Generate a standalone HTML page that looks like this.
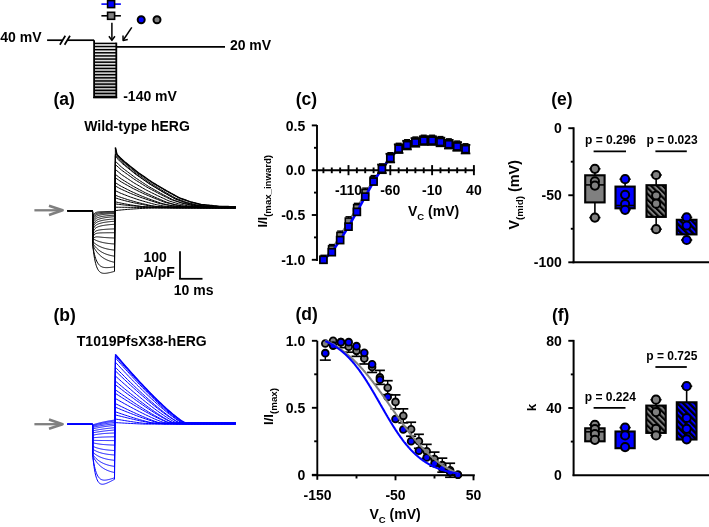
<!DOCTYPE html>
<html><head><meta charset="utf-8"><style>
html,body{margin:0;padding:0;background:#fff;width:709px;height:527px;overflow:hidden}
svg{display:block;will-change:transform;filter:blur(0.35px);font-family:"Liberation Sans",sans-serif}
</style></head><body>
<svg width="709" height="527" viewBox="0 0 709 527" font-family="Liberation Sans, sans-serif" font-weight="bold">
<text x="0.30" y="41.60" font-size="14" text-anchor="start" >40 mV</text>
<line x1="47.10" y1="40.20" x2="62.30" y2="40.20" stroke="#000" stroke-width="1.7" />
<line x1="67.20" y1="40.20" x2="94.10" y2="40.20" stroke="#000" stroke-width="1.7" />
<line x1="59.90" y1="44.70" x2="65.30" y2="35.80" stroke="#000" stroke-width="1.7" />
<line x1="64.60" y1="44.70" x2="70.00" y2="35.80" stroke="#000" stroke-width="1.7" />
<defs><linearGradient id="pg" x1="0" y1="0" x2="0" y2="1"><stop offset="0" stop-color="#f4f4f4"/><stop offset="1" stop-color="#b4b4b4"/></linearGradient></defs>
<rect x="94.1" y="43.4" width="22.2" height="54" fill="url(#pg)"/>
<line x1="94.10" y1="43.40" x2="116.30" y2="43.40" stroke="#000" stroke-width="1.5" />
<line x1="94.10" y1="46.53" x2="116.30" y2="46.53" stroke="#000" stroke-width="1.5" />
<line x1="94.10" y1="49.66" x2="116.30" y2="49.66" stroke="#000" stroke-width="1.5" />
<line x1="94.10" y1="52.79" x2="116.30" y2="52.79" stroke="#000" stroke-width="1.5" />
<line x1="94.10" y1="55.92" x2="116.30" y2="55.92" stroke="#000" stroke-width="1.5" />
<line x1="94.10" y1="59.05" x2="116.30" y2="59.05" stroke="#000" stroke-width="1.5" />
<line x1="94.10" y1="62.18" x2="116.30" y2="62.18" stroke="#000" stroke-width="1.5" />
<line x1="94.10" y1="65.31" x2="116.30" y2="65.31" stroke="#000" stroke-width="1.5" />
<line x1="94.10" y1="68.44" x2="116.30" y2="68.44" stroke="#000" stroke-width="1.5" />
<line x1="94.10" y1="71.57" x2="116.30" y2="71.57" stroke="#000" stroke-width="1.5" />
<line x1="94.10" y1="74.70" x2="116.30" y2="74.70" stroke="#000" stroke-width="1.5" />
<line x1="94.10" y1="77.83" x2="116.30" y2="77.83" stroke="#000" stroke-width="1.5" />
<line x1="94.10" y1="80.96" x2="116.30" y2="80.96" stroke="#000" stroke-width="1.5" />
<line x1="94.10" y1="84.09" x2="116.30" y2="84.09" stroke="#000" stroke-width="1.5" />
<line x1="94.10" y1="87.22" x2="116.30" y2="87.22" stroke="#000" stroke-width="1.5" />
<line x1="94.10" y1="90.35" x2="116.30" y2="90.35" stroke="#000" stroke-width="1.5" />
<line x1="94.10" y1="93.48" x2="116.30" y2="93.48" stroke="#000" stroke-width="1.5" />
<line x1="94.10" y1="96.61" x2="116.30" y2="96.61" stroke="#000" stroke-width="1.5" />
<line x1="94.10" y1="40.20" x2="94.10" y2="97.90" stroke="#000" stroke-width="1.8" />
<line x1="116.30" y1="42.60" x2="116.30" y2="97.90" stroke="#000" stroke-width="1.8" />
<line x1="93.20" y1="97.60" x2="117.20" y2="97.60" stroke="#000" stroke-width="1.5" />
<line x1="116.30" y1="46.80" x2="225.00" y2="46.80" stroke="#000" stroke-width="1.7" />
<text x="229.90" y="49.70" font-size="14" text-anchor="start" >20 mV</text>
<text x="123.20" y="101.10" font-size="14" text-anchor="start" >-140 mV</text>
<line x1="101.40" y1="4.10" x2="120.90" y2="4.10" stroke="#0000ff" stroke-width="1.6" />
<rect x="107.6" y="0.6" width="7" height="7" fill="#0000ff" stroke="#000" stroke-width="1.6"/>
<line x1="101.40" y1="15.80" x2="120.90" y2="15.80" stroke="#000" stroke-width="1.6" />
<rect x="107.6" y="12.3" width="7" height="7" fill="#808080" stroke="#000" stroke-width="1.6"/>
<circle cx="141.2" cy="19.7" r="3.5" fill="#0000ff" stroke="#000" stroke-width="2"/>
<circle cx="157" cy="19.7" r="3.5" fill="#808080" stroke="#000" stroke-width="2"/>
<line x1="111.90" y1="22.80" x2="111.90" y2="40.00" stroke="#000" stroke-width="1.5" />
<polyline points="108.90,36.20 111.90,40.40 114.90,36.20" fill="none" stroke="#000" stroke-width="1.5" stroke-linejoin="round" />
<line x1="131.80" y1="27.30" x2="123.30" y2="40.00" stroke="#000" stroke-width="1.5" />
<polyline points="123.00,35.60 123.10,40.40 127.80,39.60" fill="none" stroke="#000" stroke-width="1.5" stroke-linejoin="round" />
<text x="53.50" y="104.80" font-size="17.5" text-anchor="start" >(a)</text>
<text x="53.50" y="320.60" font-size="17.5" text-anchor="start" >(b)</text>
<text x="137.00" y="131.30" font-size="14" text-anchor="middle" >Wild-type hERG</text>
<text x="141.80" y="345.80" font-size="14" text-anchor="middle" >T1019PfsX38-hERG</text>
<line x1="34.40" y1="210.30" x2="62.00" y2="210.30" stroke="#7f7f7f" stroke-width="2.3" />
<path d="M49.0,205.70 L62.6,210.30 L49.0,214.90" fill="none" stroke="#7f7f7f" stroke-width="2.6" stroke-linejoin="round" stroke-linecap="butt"/>
<line x1="34.40" y1="424.20" x2="62.00" y2="424.20" stroke="#7f7f7f" stroke-width="2.3" />
<path d="M49.0,419.60 L62.6,424.20 L49.0,428.80" fill="none" stroke="#7f7f7f" stroke-width="2.6" stroke-linejoin="round" stroke-linecap="butt"/>
<polyline points="67.40,210.70 92.50,210.70 92.90,246.70 93.44,251.27 93.98,255.11 94.52,258.34 95.06,261.06 95.60,263.33 96.14,265.23 96.68,266.82 97.22,268.14 97.76,269.23 98.30,270.13 98.84,270.87 99.38,271.48 99.92,271.97 100.46,272.36 101.00,272.67 101.54,272.90 102.08,273.08 102.62,273.21 103.16,273.29 103.70,273.34 104.24,273.36 104.78,273.35 105.32,273.32 105.86,273.28 106.40,273.21 106.94,273.14 107.48,273.05 108.02,272.95 108.56,272.84 109.10,272.73 109.64,272.61 110.18,272.49 110.72,272.36 111.26,272.23 111.80,272.10 112.34,271.96 112.88,271.82 113.42,271.68 113.96,271.54 114.50,271.40 115.40,147.70 116.90,154.44 118.41,155.93 119.91,157.42 121.42,158.91 122.92,160.40 124.42,161.73 125.93,162.93 127.43,164.13 128.93,165.33 130.44,166.52 131.94,167.72 133.44,168.92 134.95,170.12 136.45,171.31 137.96,172.50 139.46,173.54 140.96,174.59 142.47,175.63 143.97,176.68 145.47,177.72 146.98,178.77 148.48,179.82 149.99,180.86 151.49,181.91 152.99,182.86 154.50,183.75 156.00,184.64 157.50,185.53 159.01,186.42 160.51,187.31 162.02,188.20 163.52,189.09 165.02,189.98 166.53,190.86 168.03,191.69 169.53,192.52 171.04,193.35 172.54,194.17 174.05,195.00 175.55,195.83 177.05,196.66 178.56,197.48 180.06,198.13 181.56,198.67 183.07,199.22 184.57,199.76 186.08,200.31 187.58,200.85 189.08,201.39 190.59,201.91 192.09,202.29 193.59,202.66 195.10,203.04 196.60,203.41 198.11,203.79 199.61,204.16 201.11,204.53 202.62,204.69 204.12,204.84 205.62,205.00 207.13,205.16 208.63,205.31 210.14,205.47 211.64,205.62 213.14,205.78 214.65,205.93 216.15,206.09 217.65,206.25 219.16,206.40 220.66,206.45 222.17,206.49 223.67,206.52 225.17,206.56 226.68,206.59 228.18,206.62 229.69,206.66 231.19,206.69 232.69,206.73 234.20,206.76 235.70,206.79" fill="none" stroke="#000" stroke-width="1.0" stroke-linejoin="round" />
<polyline points="115.40,147.70 116.90,154.44 118.41,155.93 119.91,157.42 121.42,158.91 122.92,160.40 124.42,161.73 125.93,162.93 127.43,164.13 128.93,165.33 130.44,166.52 131.94,167.72 133.44,168.92 134.95,170.12 136.45,171.31 137.96,172.50 139.46,173.54 140.96,174.59 142.47,175.63 143.97,176.68 145.47,177.72 146.98,178.77 148.48,179.82 149.99,180.86 151.49,181.91 152.99,182.86 154.50,183.75 156.00,184.64 157.50,185.53 159.01,186.42 160.51,187.31 162.02,188.20 163.52,189.09 165.02,189.98 166.53,190.86 168.03,191.69 169.53,192.52 171.04,193.35 172.54,194.17 174.05,195.00 175.55,195.83 177.05,196.66 178.56,197.48 180.06,198.13 181.56,198.67 183.07,199.22 184.57,199.76 186.08,200.31 187.58,200.85 189.08,201.39 190.59,201.91 192.09,202.29 193.59,202.66 195.10,203.04 196.60,203.41 198.11,203.79 199.61,204.16 201.11,204.53 202.62,204.69 204.12,204.84 205.62,205.00 207.13,205.16 208.63,205.31 210.14,205.47 211.64,205.62 213.14,205.78 214.65,205.93 216.15,206.09 217.65,206.25 219.16,206.40 220.66,206.45 222.17,206.49 223.67,206.52 225.17,206.56 226.68,206.59 228.18,206.62 229.69,206.66 231.19,206.69 232.69,206.73 234.20,206.76 235.70,206.79" fill="none" stroke="#000" stroke-width="1.5" stroke-linejoin="round" />
<polyline points="67.40,210.70 92.50,210.70 92.90,246.70 93.44,249.74 93.98,252.37 94.52,254.64 95.06,256.61 95.60,258.31 96.14,259.78 96.68,261.04 97.22,262.13 97.76,263.06 98.30,263.86 98.84,264.54 99.38,265.12 99.92,265.62 100.46,266.03 101.00,266.38 101.54,266.67 102.08,266.91 102.62,267.11 103.16,267.27 103.70,267.39 104.24,267.48 104.78,267.55 105.32,267.60 105.86,267.63 106.40,267.64 106.94,267.64 107.48,267.62 108.02,267.60 108.56,267.56 109.10,267.52 109.64,267.47 110.18,267.41 110.72,267.35 111.26,267.28 111.80,267.21 112.34,267.13 112.88,267.05 113.42,266.97 113.96,266.89 114.50,266.80 115.40,154.00 116.90,155.56 118.41,157.13 119.91,158.69 121.42,160.26 122.92,161.69 124.42,162.94 125.93,164.20 127.43,165.45 128.93,166.71 130.44,167.96 131.94,169.22 133.44,170.47 134.95,171.73 136.45,172.93 137.96,174.03 139.46,175.13 140.96,176.22 142.47,177.32 143.97,178.42 145.47,179.51 146.98,180.61 148.48,181.71 149.99,182.78 151.49,183.71 152.99,184.64 154.50,185.58 156.00,186.51 157.50,187.44 159.01,188.38 160.51,189.31 162.02,190.24 163.52,191.18 165.02,192.04 166.53,192.91 168.03,193.78 169.53,194.65 171.04,195.51 172.54,196.38 174.05,197.25 175.55,198.12 177.05,198.74 178.56,199.31 180.06,199.88 181.56,200.45 183.07,201.02 184.57,201.59 186.08,202.16 187.58,202.63 189.08,203.02 190.59,203.42 192.09,203.81 193.59,204.20 195.10,204.59 196.60,204.99 198.11,205.22 199.61,205.38 201.11,205.54 202.62,205.71 204.12,205.87 205.62,206.03 207.13,206.20 208.63,206.36 210.14,206.52 211.64,206.69 213.14,206.85 214.65,207.01 216.15,207.05 217.65,207.09 219.16,207.13 220.66,207.16 222.17,207.20 223.67,207.23 225.17,207.27 226.68,207.30 228.18,207.34 229.69,207.37 231.19,207.41 232.69,207.45 234.20,207.48 235.70,207.50" fill="none" stroke="#000" stroke-width="1.0" stroke-linejoin="round" />
<polyline points="67.40,210.70 92.50,210.70 92.90,245.70 93.44,246.71 93.98,247.66 94.52,248.56 95.06,249.41 95.60,250.22 96.14,250.98 96.68,251.70 97.22,252.38 97.76,253.03 98.30,253.64 98.84,254.21 99.38,254.76 99.92,255.28 100.46,255.76 101.00,256.23 101.54,256.66 102.08,257.08 102.62,257.47 103.16,257.84 103.70,258.19 104.24,258.52 104.78,258.83 105.32,259.13 105.86,259.41 106.40,259.68 106.94,259.93 107.48,260.16 108.02,260.39 108.56,260.60 109.10,260.80 109.64,260.99 110.18,261.17 110.72,261.34 111.26,261.50 111.80,261.65 112.34,261.80 112.88,261.93 113.42,262.06 113.96,262.18 114.50,262.30 115.40,155.60 116.90,157.15 118.41,158.69 119.91,160.24 121.42,161.78 122.92,163.18 124.42,164.42 125.93,165.66 127.43,166.90 128.93,168.14 130.44,169.38 131.94,170.62 133.44,171.86 134.95,173.10 136.45,174.28 137.96,175.36 139.46,176.44 140.96,177.53 142.47,178.61 143.97,179.69 145.47,180.78 146.98,181.86 148.48,182.94 149.99,183.98 151.49,184.90 152.99,185.82 154.50,186.74 156.00,187.67 157.50,188.59 159.01,189.51 160.51,190.43 162.02,191.36 163.52,192.26 165.02,193.12 166.53,193.98 168.03,194.83 169.53,195.69 171.04,196.55 172.54,197.40 174.05,198.26 175.55,199.09 177.05,199.66 178.56,200.22 180.06,200.78 181.56,201.35 183.07,201.91 184.57,202.47 186.08,203.03 187.58,203.44 189.08,203.83 190.59,204.22 192.09,204.61 193.59,204.99 195.10,205.38 196.60,205.76 198.11,205.92 199.61,206.08 201.11,206.24 202.62,206.40 204.12,206.56 205.62,206.72 207.13,206.89 208.63,207.05 210.14,207.21 211.64,207.37 213.14,207.53 214.65,207.64 216.15,207.68 217.65,207.71 219.16,207.75 220.66,207.78 222.17,207.82 223.67,207.85 225.17,207.89 226.68,207.92 228.18,207.96 229.69,207.99 231.19,208.03 232.69,208.06 234.20,208.10 235.70,208.10" fill="none" stroke="#000" stroke-width="1.0" stroke-linejoin="round" />
<polyline points="67.40,210.70 92.50,210.70 92.90,243.70 93.44,244.46 93.98,245.17 94.52,245.85 95.06,246.49 95.60,247.10 96.14,247.67 96.68,248.22 97.22,248.73 97.76,249.22 98.30,249.68 98.84,250.11 99.38,250.52 99.92,250.91 100.46,251.28 101.00,251.63 101.54,251.96 102.08,252.27 102.62,252.56 103.16,252.84 103.70,253.10 104.24,253.35 104.78,253.59 105.32,253.81 105.86,254.02 106.40,254.22 106.94,254.41 107.48,254.59 108.02,254.76 108.56,254.92 109.10,255.07 109.64,255.21 110.18,255.35 110.72,255.48 111.26,255.60 111.80,255.71 112.34,255.82 112.88,255.92 113.42,256.02 113.96,256.11 114.50,256.20 115.40,156.70 116.90,158.21 118.41,159.71 119.91,161.22 121.42,162.73 122.92,164.08 124.42,165.28 125.93,166.49 127.43,167.70 128.93,168.91 130.44,170.12 131.94,171.33 133.44,172.54 134.95,173.75 136.45,174.87 137.96,175.92 139.46,176.98 140.96,178.04 142.47,179.09 143.97,180.15 145.47,181.20 146.98,182.26 148.48,183.32 149.99,184.28 151.49,185.18 152.99,186.08 154.50,186.97 156.00,187.87 157.50,188.77 159.01,189.67 160.51,190.57 162.02,191.47 163.52,192.33 165.02,193.16 166.53,194.00 168.03,194.83 169.53,195.67 171.04,196.50 172.54,197.34 174.05,198.18 175.55,198.83 177.05,199.38 178.56,199.93 180.06,200.48 181.56,201.03 183.07,201.58 184.57,202.13 186.08,202.59 187.58,202.97 189.08,203.34 190.59,203.72 192.09,204.10 193.59,204.48 195.10,204.86 196.60,205.06 198.11,205.22 199.61,205.38 201.11,205.53 202.62,205.69 204.12,205.85 205.62,206.00 207.13,206.16 208.63,206.32 210.14,206.48 211.64,206.63 213.14,206.76 214.65,206.79 216.15,206.83 217.65,206.86 219.16,206.89 220.66,206.93 222.17,206.96 223.67,207.00 225.17,207.03 226.68,207.07 228.18,207.10 229.69,207.13 231.19,207.17 232.69,207.20 234.20,207.20 235.70,207.20" fill="none" stroke="#000" stroke-width="1.0" stroke-linejoin="round" />
<polyline points="67.40,210.70 92.50,210.70 92.90,241.70 93.44,242.21 93.98,242.69 94.52,243.15 95.06,243.58 95.60,243.98 96.14,244.37 96.68,244.74 97.22,245.08 97.76,245.41 98.30,245.72 98.84,246.01 99.38,246.28 99.92,246.55 100.46,246.79 101.00,247.03 101.54,247.25 102.08,247.46 102.62,247.66 103.16,247.84 103.70,248.02 104.24,248.19 104.78,248.35 105.32,248.50 105.86,248.64 106.40,248.77 106.94,248.90 107.48,249.02 108.02,249.13 108.56,249.24 109.10,249.34 109.64,249.44 110.18,249.53 110.72,249.61 111.26,249.70 111.80,249.77 112.34,249.85 112.88,249.91 113.42,249.98 113.96,250.04 114.50,250.10 115.40,161.30 116.90,162.73 118.41,164.16 119.91,165.58 121.42,167.01 122.92,168.25 124.42,169.40 125.93,170.55 127.43,171.69 128.93,172.84 130.44,173.98 131.94,175.13 133.44,176.28 134.95,177.42 136.45,178.43 137.96,179.43 139.46,180.43 140.96,181.43 142.47,182.43 143.97,183.43 145.47,184.43 146.98,185.43 148.48,186.40 149.99,187.25 151.49,188.10 152.99,188.95 154.50,189.81 156.00,190.66 157.50,191.51 159.01,192.36 160.51,193.22 162.02,194.03 163.52,194.83 165.02,195.62 166.53,196.41 168.03,197.20 169.53,197.99 171.04,198.79 172.54,199.58 174.05,200.17 175.55,200.69 177.05,201.21 178.56,201.73 180.06,202.25 181.56,202.77 183.07,203.29 184.57,203.67 186.08,204.03 187.58,204.39 189.08,204.75 190.59,205.11 192.09,205.47 193.59,205.76 195.10,205.91 196.60,206.06 198.11,206.21 199.61,206.36 201.11,206.51 202.62,206.66 204.12,206.80 205.62,206.95 207.13,207.10 208.63,207.25 210.14,207.39 211.64,207.42 213.14,207.45 214.65,207.48 216.15,207.52 217.65,207.55 219.16,207.58 220.66,207.61 222.17,207.65 223.67,207.68 225.17,207.71 226.68,207.74 228.18,207.78 229.69,207.80 231.19,207.80 232.69,207.80 234.20,207.80 235.70,207.80" fill="none" stroke="#000" stroke-width="1.0" stroke-linejoin="round" />
<polyline points="67.40,210.70 92.50,210.70 92.90,238.70 93.44,239.02 93.98,239.33 94.52,239.61 95.06,239.88 95.60,240.14 96.14,240.38 96.68,240.62 97.22,240.83 97.76,241.04 98.30,241.23 98.84,241.42 99.38,241.59 99.92,241.76 100.46,241.91 101.00,242.06 101.54,242.20 102.08,242.33 102.62,242.46 103.16,242.58 103.70,242.69 104.24,242.79 104.78,242.89 105.32,242.99 105.86,243.08 106.40,243.16 106.94,243.24 107.48,243.32 108.02,243.39 108.56,243.46 109.10,243.52 109.64,243.58 110.18,243.64 110.72,243.69 111.26,243.75 111.80,243.79 112.34,243.84 112.88,243.88 113.42,243.92 113.96,243.96 114.50,244.00 115.40,164.60 116.90,165.94 118.41,167.29 119.91,168.63 121.42,169.97 122.92,171.10 124.42,172.18 125.93,173.26 127.43,174.33 128.93,175.41 130.44,176.49 131.94,177.57 133.44,178.65 134.95,179.67 136.45,180.61 137.96,181.55 139.46,182.49 140.96,183.43 142.47,184.37 143.97,185.32 145.47,186.26 146.98,187.20 148.48,188.01 149.99,188.81 151.49,189.61 152.99,190.41 154.50,191.21 156.00,192.01 157.50,192.81 159.01,193.61 160.51,194.38 162.02,195.13 163.52,195.87 165.02,196.62 166.53,197.36 168.03,198.11 169.53,198.85 171.04,199.60 172.54,200.09 174.05,200.58 175.55,201.07 177.05,201.56 178.56,202.05 180.06,202.54 181.56,202.98 183.07,203.32 184.57,203.65 186.08,203.99 187.58,204.33 189.08,204.66 190.59,205.00 192.09,205.14 193.59,205.28 195.10,205.42 196.60,205.56 198.11,205.70 199.61,205.84 201.11,205.98 202.62,206.12 204.12,206.26 205.62,206.40 207.13,206.53 208.63,206.56 210.14,206.59 211.64,206.62 213.14,206.65 214.65,206.68 216.15,206.71 217.65,206.74 219.16,206.77 220.66,206.80 222.17,206.83 223.67,206.86 225.17,206.89 226.68,206.90 228.18,206.90 229.69,206.90 231.19,206.90 232.69,206.90 234.20,206.90 235.70,206.90" fill="none" stroke="#000" stroke-width="1.0" stroke-linejoin="round" />
<polyline points="67.40,210.70 92.50,210.70 92.90,239.70 93.44,238.64 93.98,237.93 94.52,237.47 95.06,237.17 95.60,237.00 96.14,236.90 96.68,236.86 97.22,236.86 97.76,236.88 98.30,236.91 98.84,236.96 99.38,237.01 99.92,237.07 100.46,237.12 101.00,237.18 101.54,237.23 102.08,237.29 102.62,237.34 103.16,237.39 103.70,237.43 104.24,237.48 104.78,237.52 105.32,237.56 105.86,237.60 106.40,237.64 106.94,237.67 107.48,237.70 108.02,237.74 108.56,237.76 109.10,237.79 109.64,237.82 110.18,237.84 110.72,237.87 111.26,237.89 111.80,237.91 112.34,237.93 112.88,237.95 113.42,237.97 113.96,237.98 114.50,238.00 115.40,169.50 116.90,170.75 118.41,172.01 119.91,173.26 121.42,174.51 122.92,175.53 124.42,176.53 125.93,177.54 127.43,178.54 128.93,179.55 130.44,180.55 131.94,181.56 133.44,182.56 134.95,183.46 136.45,184.33 137.96,185.21 139.46,186.09 140.96,186.97 142.47,187.85 143.97,188.72 145.47,189.60 146.98,190.38 148.48,191.13 149.99,191.88 151.49,192.63 152.99,193.37 154.50,194.12 156.00,194.87 157.50,195.62 159.01,196.33 160.51,197.02 162.02,197.72 163.52,198.41 165.02,199.11 166.53,199.80 168.03,200.50 169.53,201.11 171.04,201.56 172.54,202.02 174.05,202.48 175.55,202.93 177.05,203.39 178.56,203.85 180.06,204.17 181.56,204.49 183.07,204.80 184.57,205.11 186.08,205.43 187.58,205.74 189.08,205.91 190.59,206.04 192.09,206.17 193.59,206.30 195.10,206.43 196.60,206.56 198.11,206.69 199.61,206.82 201.11,206.95 202.62,207.08 204.12,207.17 205.62,207.20 207.13,207.23 208.63,207.26 210.14,207.29 211.64,207.31 213.14,207.34 214.65,207.37 216.15,207.40 217.65,207.43 219.16,207.46 220.66,207.48 222.17,207.50 223.67,207.50 225.17,207.50 226.68,207.50 228.18,207.50 229.69,207.50 231.19,207.50 232.69,207.50 234.20,207.50 235.70,207.50" fill="none" stroke="#000" stroke-width="1.0" stroke-linejoin="round" />
<polyline points="67.40,210.70 92.50,210.70 92.90,237.20 93.44,235.97 93.98,235.10 94.52,234.48 95.06,234.05 95.60,233.73 96.14,233.51 96.68,233.35 97.22,233.23 97.76,233.14 98.30,233.07 98.84,233.02 99.38,232.98 99.92,232.95 100.46,232.92 101.00,232.90 101.54,232.88 102.08,232.87 102.62,232.85 103.16,232.84 103.70,232.83 104.24,232.82 104.78,232.81 105.32,232.80 105.86,232.79 106.40,232.78 106.94,232.77 107.48,232.76 108.02,232.76 108.56,232.75 109.10,232.75 109.64,232.74 110.18,232.73 110.72,232.73 111.26,232.72 111.80,232.72 112.34,232.72 112.88,232.71 113.42,232.71 113.96,232.70 114.50,232.70 115.40,174.40 116.90,175.56 118.41,176.72 119.91,177.88 121.42,179.01 122.92,179.94 124.42,180.87 125.93,181.79 127.43,182.72 128.93,183.65 130.44,184.58 131.94,185.51 133.44,186.40 134.95,187.21 136.45,188.02 137.96,188.84 139.46,189.65 140.96,190.46 142.47,191.27 143.97,192.08 145.47,192.83 146.98,193.52 148.48,194.21 149.99,194.90 151.49,195.59 152.99,196.28 154.50,196.97 156.00,197.67 157.50,198.32 159.01,198.96 160.51,199.60 162.02,200.25 163.52,200.89 165.02,201.53 166.53,202.17 168.03,202.63 169.53,203.06 171.04,203.48 172.54,203.90 174.05,204.32 175.55,204.75 177.05,205.08 178.56,205.37 180.06,205.66 181.56,205.95 183.07,206.24 184.57,206.54 186.08,206.69 187.58,206.81 189.08,206.93 190.59,207.05 192.09,207.17 193.59,207.29 195.10,207.41 196.60,207.53 198.11,207.66 199.61,207.78 201.11,207.82 202.62,207.85 204.12,207.87 205.62,207.90 207.13,207.92 208.63,207.95 210.14,207.98 211.64,208.00 213.14,208.03 214.65,208.06 216.15,208.08 217.65,208.10 219.16,208.10 220.66,208.10 222.17,208.10 223.67,208.10 225.17,208.10 226.68,208.10 228.18,208.10 229.69,208.10 231.19,208.10 232.69,208.10 234.20,208.10 235.70,208.10" fill="none" stroke="#000" stroke-width="1.0" stroke-linejoin="round" />
<polyline points="67.40,210.70 92.50,210.70 92.90,235.20 93.44,233.86 93.98,232.89 94.52,232.17 95.06,231.64 95.60,231.25 96.14,230.94 96.68,230.70 97.22,230.50 97.76,230.35 98.30,230.21 98.84,230.10 99.38,230.00 99.92,229.91 100.46,229.83 101.00,229.76 101.54,229.69 102.08,229.63 102.62,229.58 103.16,229.52 103.70,229.47 104.24,229.43 104.78,229.38 105.32,229.34 105.86,229.30 106.40,229.26 106.94,229.23 107.48,229.20 108.02,229.17 108.56,229.14 109.10,229.11 109.64,229.08 110.18,229.06 110.72,229.03 111.26,229.01 111.80,228.99 112.34,228.97 112.88,228.95 113.42,228.93 113.96,228.92 114.50,228.90 115.40,177.80 116.90,178.86 118.41,179.92 119.91,180.98 121.42,181.98 122.92,182.83 124.42,183.68 125.93,184.53 127.43,185.38 128.93,186.23 130.44,187.08 131.94,187.93 133.44,188.68 134.95,189.43 136.45,190.17 137.96,190.91 139.46,191.66 140.96,192.40 142.47,193.14 143.97,193.83 145.47,194.47 146.98,195.10 148.48,195.73 149.99,196.36 151.49,197.00 152.99,197.63 154.50,198.26 156.00,198.85 157.50,199.43 159.01,200.02 160.51,200.61 162.02,201.20 163.52,201.79 165.02,202.29 166.53,202.68 168.03,203.06 169.53,203.45 171.04,203.84 172.54,204.22 174.05,204.54 175.55,204.81 177.05,205.08 178.56,205.34 180.06,205.61 181.56,205.87 183.07,205.99 184.57,206.10 186.08,206.21 187.58,206.32 189.08,206.43 190.59,206.54 192.09,206.65 193.59,206.76 195.10,206.87 196.60,206.95 198.11,206.97 199.61,207.00 201.11,207.02 202.62,207.04 204.12,207.07 205.62,207.09 207.13,207.12 208.63,207.14 210.14,207.16 211.64,207.19 213.14,207.20 214.65,207.20 216.15,207.20 217.65,207.20 219.16,207.20 220.66,207.20 222.17,207.20 223.67,207.20 225.17,207.20 226.68,207.20 228.18,207.20 229.69,207.20 231.19,207.20 232.69,207.20 234.20,207.20 235.70,207.20" fill="none" stroke="#000" stroke-width="1.0" stroke-linejoin="round" />
<polyline points="67.40,210.70 92.50,210.70 92.90,232.70 93.44,231.23 93.98,230.14 94.52,229.31 95.06,228.68 95.60,228.17 96.14,227.77 96.68,227.44 97.22,227.16 97.76,226.92 98.30,226.71 98.84,226.52 99.38,226.35 99.92,226.20 100.46,226.06 101.00,225.93 101.54,225.81 102.08,225.69 102.62,225.59 103.16,225.49 103.70,225.39 104.24,225.30 104.78,225.22 105.32,225.14 105.86,225.07 106.40,225.00 106.94,224.93 107.48,224.87 108.02,224.81 108.56,224.75 109.10,224.70 109.64,224.65 110.18,224.60 110.72,224.55 111.26,224.51 111.80,224.47 112.34,224.43 112.88,224.40 113.42,224.36 113.96,224.33 114.50,224.30 115.40,182.70 116.90,183.66 118.41,184.61 119.91,185.57 121.42,186.43 122.92,187.20 124.42,187.97 125.93,188.73 127.43,189.50 128.93,190.27 130.44,191.04 131.94,191.76 133.44,192.43 134.95,193.10 136.45,193.77 137.96,194.44 139.46,195.11 140.96,195.78 142.47,196.40 143.97,196.97 145.47,197.54 146.98,198.11 148.48,198.69 149.99,199.26 151.49,199.83 152.99,200.38 154.50,200.91 156.00,201.44 157.50,201.97 159.01,202.50 160.51,203.03 162.02,203.53 163.52,203.88 165.02,204.23 166.53,204.58 168.03,204.92 169.53,205.27 171.04,205.56 172.54,205.80 174.05,206.04 175.55,206.28 177.05,206.52 178.56,206.71 180.06,206.81 181.56,206.91 183.07,207.01 184.57,207.11 186.08,207.21 187.58,207.31 189.08,207.41 190.59,207.51 192.09,207.58 193.59,207.60 195.10,207.63 196.60,207.65 198.11,207.67 199.61,207.69 201.11,207.71 202.62,207.73 204.12,207.76 205.62,207.78 207.13,207.80 208.63,207.80 210.14,207.80 211.64,207.80 213.14,207.80 214.65,207.80 216.15,207.80 217.65,207.80 219.16,207.80 220.66,207.80 222.17,207.80 223.67,207.80 225.17,207.80 226.68,207.80 228.18,207.80 229.69,207.80 231.19,207.80 232.69,207.80 234.20,207.80 235.70,207.80" fill="none" stroke="#000" stroke-width="1.0" stroke-linejoin="round" />
<polyline points="67.40,210.70 92.50,210.70 92.90,230.20 93.44,228.70 93.98,227.58 94.52,226.73 95.06,226.06 95.60,225.54 96.14,225.11 96.68,224.76 97.22,224.46 97.76,224.20 98.30,223.97 98.84,223.77 99.38,223.58 99.92,223.41 100.46,223.26 101.00,223.11 101.54,222.98 102.08,222.85 102.62,222.73 103.16,222.62 103.70,222.52 104.24,222.42 104.78,222.32 105.32,222.24 105.86,222.15 106.40,222.08 106.94,222.00 107.48,221.93 108.02,221.86 108.56,221.80 109.10,221.74 109.64,221.69 110.18,221.63 110.72,221.58 111.26,221.54 111.80,221.49 112.34,221.45 112.88,221.41 113.42,221.37 113.96,221.33 114.50,221.30 115.40,186.00 116.90,186.85 118.41,187.70 119.91,188.55 121.42,189.28 122.92,189.96 124.42,190.64 125.93,191.32 127.43,192.00 128.93,192.68 130.44,193.35 131.94,193.95 133.44,194.54 134.95,195.14 136.45,195.73 137.96,196.33 139.46,196.92 140.96,197.47 142.47,197.98 143.97,198.48 145.47,198.99 146.98,199.50 148.48,200.00 149.99,200.51 151.49,200.98 152.99,201.45 154.50,201.92 156.00,202.39 157.50,202.86 159.01,203.32 160.51,203.63 162.02,203.94 163.52,204.25 165.02,204.56 166.53,204.87 168.03,205.09 169.53,205.31 171.04,205.52 172.54,205.73 174.05,205.95 175.55,206.05 177.05,206.13 178.56,206.22 180.06,206.31 181.56,206.40 183.07,206.49 184.57,206.58 186.08,206.67 187.58,206.72 189.08,206.74 190.59,206.76 192.09,206.78 193.59,206.80 195.10,206.82 196.60,206.84 198.11,206.86 199.61,206.88 201.11,206.90 202.62,206.90 204.12,206.90 205.62,206.90 207.13,206.90 208.63,206.90 210.14,206.90 211.64,206.90 213.14,206.90 214.65,206.90 216.15,206.90 217.65,206.90 219.16,206.90 220.66,206.90 222.17,206.90 223.67,206.90 225.17,206.90 226.68,206.90 228.18,206.90 229.69,206.90 231.19,206.90 232.69,206.90 234.20,206.90 235.70,206.90" fill="none" stroke="#000" stroke-width="1.0" stroke-linejoin="round" />
<polyline points="67.40,210.70 92.50,210.70 92.90,227.70 93.44,226.21 93.98,225.10 94.52,224.26 95.06,223.61 95.60,223.09 96.14,222.68 96.68,222.33 97.22,222.04 97.76,221.79 98.30,221.57 98.84,221.37 99.38,221.19 99.92,221.03 100.46,220.88 101.00,220.74 101.54,220.61 102.08,220.49 102.62,220.37 103.16,220.27 103.70,220.17 104.24,220.07 104.78,219.98 105.32,219.90 105.86,219.82 106.40,219.74 106.94,219.67 107.48,219.61 108.02,219.54 108.56,219.48 109.10,219.42 109.64,219.37 110.18,219.32 110.72,219.27 111.26,219.23 111.80,219.18 112.34,219.14 112.88,219.10 113.42,219.07 113.96,219.03 114.50,219.00 115.40,190.70 116.90,191.44 118.41,192.17 119.91,192.91 121.42,193.51 122.92,194.10 124.42,194.69 125.93,195.28 127.43,195.87 128.93,196.46 130.44,196.99 131.94,197.51 133.44,198.02 134.95,198.54 136.45,199.06 137.96,199.57 139.46,200.03 140.96,200.47 142.47,200.91 143.97,201.35 145.47,201.79 146.98,202.23 148.48,202.65 149.99,203.05 151.49,203.46 152.99,203.87 154.50,204.28 156.00,204.66 157.50,204.93 159.01,205.20 160.51,205.46 162.02,205.73 163.52,205.97 165.02,206.16 166.53,206.34 168.03,206.53 169.53,206.71 171.04,206.81 172.54,206.89 174.05,206.96 175.55,207.04 177.05,207.12 178.56,207.19 180.06,207.27 181.56,207.35 183.07,207.37 184.57,207.38 186.08,207.40 187.58,207.42 189.08,207.43 190.59,207.45 192.09,207.47 193.59,207.48 195.10,207.50 196.60,207.50 198.11,207.50 199.61,207.50 201.11,207.50 202.62,207.50 204.12,207.50 205.62,207.50 207.13,207.50 208.63,207.50 210.14,207.50 211.64,207.50 213.14,207.50 214.65,207.50 216.15,207.50 217.65,207.50 219.16,207.50 220.66,207.50 222.17,207.50 223.67,207.50 225.17,207.50 226.68,207.50 228.18,207.50 229.69,207.50 231.19,207.50 232.69,207.50 234.20,207.50 235.70,207.50" fill="none" stroke="#000" stroke-width="1.0" stroke-linejoin="round" />
<polyline points="67.40,210.70 92.50,210.70 92.90,225.70 93.44,224.20 93.98,223.07 94.52,222.21 95.06,221.54 95.60,221.01 96.14,220.58 96.68,220.22 97.22,219.92 97.76,219.65 98.30,219.42 98.84,219.21 99.38,219.03 99.92,218.85 100.46,218.70 101.00,218.55 101.54,218.41 102.08,218.28 102.62,218.16 103.16,218.05 103.70,217.94 104.24,217.84 104.78,217.75 105.32,217.66 105.86,217.57 106.40,217.49 106.94,217.42 107.48,217.34 108.02,217.28 108.56,217.21 109.10,217.15 109.64,217.09 110.18,217.04 110.72,216.99 111.26,216.94 111.80,216.89 112.34,216.85 112.88,216.81 113.42,216.77 113.96,216.73 114.50,216.70 115.40,195.20 116.90,195.82 118.41,196.44 119.91,197.03 121.42,197.53 122.92,198.03 124.42,198.53 125.93,199.03 127.43,199.52 128.93,199.98 130.44,200.41 131.94,200.85 133.44,201.28 134.95,201.72 136.45,202.15 137.96,202.52 139.46,202.89 140.96,203.26 142.47,203.63 143.97,204.00 145.47,204.35 146.98,204.70 148.48,205.04 149.99,205.39 151.49,205.73 152.99,206.01 154.50,206.23 156.00,206.46 157.50,206.68 159.01,206.90 160.51,207.05 162.02,207.21 163.52,207.37 165.02,207.52 166.53,207.59 168.03,207.65 169.53,207.72 171.04,207.78 172.54,207.85 174.05,207.91 175.55,207.98 177.05,208.00 178.56,208.01 180.06,208.02 181.56,208.04 183.07,208.05 184.57,208.07 186.08,208.08 187.58,208.10 189.08,208.10 190.59,208.10 192.09,208.10 193.59,208.10 195.10,208.10 196.60,208.10 198.11,208.10 199.61,208.10 201.11,208.10 202.62,208.10 204.12,208.10 205.62,208.10 207.13,208.10 208.63,208.10 210.14,208.10 211.64,208.10 213.14,208.10 214.65,208.10 216.15,208.10 217.65,208.10 219.16,208.10 220.66,208.10 222.17,208.10 223.67,208.10 225.17,208.10 226.68,208.10 228.18,208.10 229.69,208.10 231.19,208.10 232.69,208.10 234.20,208.10 235.70,208.10" fill="none" stroke="#000" stroke-width="1.0" stroke-linejoin="round" />
<polyline points="67.40,210.70 92.50,210.70 92.90,223.20 93.44,221.76 93.98,220.69 94.52,219.88 95.06,219.26 95.60,218.78 96.14,218.40 96.68,218.08 97.22,217.82 97.76,217.60 98.30,217.40 98.84,217.23 99.38,217.07 99.92,216.93 100.46,216.80 101.00,216.68 101.54,216.57 102.08,216.47 102.62,216.37 103.16,216.28 103.70,216.19 104.24,216.11 104.78,216.04 105.32,215.97 105.86,215.90 106.40,215.83 106.94,215.77 107.48,215.72 108.02,215.66 108.56,215.61 109.10,215.56 109.64,215.52 110.18,215.47 110.72,215.43 111.26,215.39 111.80,215.36 112.34,215.32 112.88,215.29 113.42,215.26 113.96,215.23 114.50,215.20 115.40,197.90 116.90,198.40 118.41,198.90 119.91,199.35 121.42,199.76 122.92,200.16 124.42,200.56 125.93,200.96 127.43,201.34 128.93,201.69 130.44,202.04 131.94,202.39 133.44,202.74 134.95,203.06 136.45,203.36 137.96,203.66 139.46,203.96 140.96,204.26 142.47,204.54 143.97,204.82 145.47,205.10 146.98,205.38 148.48,205.64 149.99,205.82 151.49,206.00 152.99,206.18 154.50,206.35 156.00,206.48 157.50,206.60 159.01,206.73 160.51,206.81 162.02,206.87 163.52,206.92 165.02,206.97 166.53,207.02 168.03,207.07 169.53,207.12 171.04,207.13 172.54,207.14 174.05,207.15 175.55,207.16 177.05,207.18 178.56,207.19 180.06,207.20 181.56,207.20 183.07,207.20 184.57,207.20 186.08,207.20 187.58,207.20 189.08,207.20 190.59,207.20 192.09,207.20 193.59,207.20 195.10,207.20 196.60,207.20 198.11,207.20 199.61,207.20 201.11,207.20 202.62,207.20 204.12,207.20 205.62,207.20 207.13,207.20 208.63,207.20 210.14,207.20 211.64,207.20 213.14,207.20 214.65,207.20 216.15,207.20 217.65,207.20 219.16,207.20 220.66,207.20 222.17,207.20 223.67,207.20 225.17,207.20 226.68,207.20 228.18,207.20 229.69,207.20 231.19,207.20 232.69,207.20 234.20,207.20 235.70,207.20" fill="none" stroke="#000" stroke-width="1.0" stroke-linejoin="round" />
<polyline points="67.40,210.70 92.50,210.70 92.90,221.20 93.44,219.77 93.98,218.72 94.52,217.93 95.06,217.33 95.60,216.86 96.14,216.49 96.68,216.19 97.22,215.94 97.76,215.73 98.30,215.54 98.84,215.38 99.38,215.24 99.92,215.10 100.46,214.98 101.00,214.87 101.54,214.77 102.08,214.67 102.62,214.58 103.16,214.50 103.70,214.42 104.24,214.34 104.78,214.27 105.32,214.21 105.86,214.14 106.40,214.09 106.94,214.03 107.48,213.98 108.02,213.93 108.56,213.88 109.10,213.83 109.64,213.79 110.18,213.75 110.72,213.71 111.26,213.68 111.80,213.64 112.34,213.61 112.88,213.58 113.42,213.55 113.96,213.53 114.50,213.50 115.40,201.80 116.90,202.18 118.41,202.55 119.91,202.87 121.42,203.17 122.92,203.47 124.42,203.77 125.93,204.05 127.43,204.32 128.93,204.58 130.44,204.85 131.94,205.10 133.44,205.32 134.95,205.55 136.45,205.77 137.96,205.99 139.46,206.20 140.96,206.41 142.47,206.62 143.97,206.81 145.47,206.95 146.98,207.08 148.48,207.22 149.99,207.32 151.49,207.41 152.99,207.51 154.50,207.56 156.00,207.60 157.50,207.64 159.01,207.68 160.51,207.72 162.02,207.75 163.52,207.76 165.02,207.77 166.53,207.77 168.03,207.78 169.53,207.79 171.04,207.80 172.54,207.80 174.05,207.80 175.55,207.80 177.05,207.80 178.56,207.80 180.06,207.80 181.56,207.80 183.07,207.80 184.57,207.80 186.08,207.80 187.58,207.80 189.08,207.80 190.59,207.80 192.09,207.80 193.59,207.80 195.10,207.80 196.60,207.80 198.11,207.80 199.61,207.80 201.11,207.80 202.62,207.80 204.12,207.80 205.62,207.80 207.13,207.80 208.63,207.80 210.14,207.80 211.64,207.80 213.14,207.80 214.65,207.80 216.15,207.80 217.65,207.80 219.16,207.80 220.66,207.80 222.17,207.80 223.67,207.80 225.17,207.80 226.68,207.80 228.18,207.80 229.69,207.80 231.19,207.80 232.69,207.80 234.20,207.80 235.70,207.80" fill="none" stroke="#000" stroke-width="1.0" stroke-linejoin="round" />
<polyline points="67.40,210.70 92.50,210.70 92.90,219.20 93.44,217.85 93.98,216.86 94.52,216.14 95.06,215.60 95.60,215.19 96.14,214.87 96.68,214.62 97.22,214.42 97.76,214.26 98.30,214.12 98.84,214.00 99.38,213.89 99.92,213.80 100.46,213.71 101.00,213.63 101.54,213.56 102.08,213.50 102.62,213.43 103.16,213.38 103.70,213.32 104.24,213.27 104.78,213.22 105.32,213.18 105.86,213.14 106.40,213.10 106.94,213.06 107.48,213.02 108.02,212.99 108.56,212.96 109.10,212.93 109.64,212.90 110.18,212.87 110.72,212.84 111.26,212.82 111.80,212.80 112.34,212.78 112.88,212.76 113.42,212.74 113.96,212.72 114.50,212.70 115.40,203.90 116.90,204.12 118.41,204.33 119.91,204.50 121.42,204.68 122.92,204.85 124.42,205.02 125.93,205.17 127.43,205.32 128.93,205.47 130.44,205.61 131.94,205.74 133.44,205.87 134.95,206.00 136.45,206.12 137.96,206.24 139.46,206.36 140.96,206.45 142.47,206.52 143.97,206.60 145.47,206.66 146.98,206.72 148.48,206.77 149.99,206.79 151.49,206.81 152.99,206.84 154.50,206.86 156.00,206.87 157.50,206.88 159.01,206.88 160.51,206.89 162.02,206.89 163.52,206.90 165.02,206.90 166.53,206.90 168.03,206.90 169.53,206.90 171.04,206.90 172.54,206.90 174.05,206.90 175.55,206.90 177.05,206.90 178.56,206.90 180.06,206.90 181.56,206.90 183.07,206.90 184.57,206.90 186.08,206.90 187.58,206.90 189.08,206.90 190.59,206.90 192.09,206.90 193.59,206.90 195.10,206.90 196.60,206.90 198.11,206.90 199.61,206.90 201.11,206.90 202.62,206.90 204.12,206.90 205.62,206.90 207.13,206.90 208.63,206.90 210.14,206.90 211.64,206.90 213.14,206.90 214.65,206.90 216.15,206.90 217.65,206.90 219.16,206.90 220.66,206.90 222.17,206.90 223.67,206.90 225.17,206.90 226.68,206.90 228.18,206.90 229.69,206.90 231.19,206.90 232.69,206.90 234.20,206.90 235.70,206.90" fill="none" stroke="#000" stroke-width="1.0" stroke-linejoin="round" />
<polyline points="67.40,210.70 92.50,210.70 92.90,217.70 93.44,216.39 93.98,215.45 94.52,214.76 95.06,214.26 95.60,213.88 96.14,213.60 96.68,213.38 97.22,213.21 97.76,213.07 98.30,212.95 98.84,212.86 99.38,212.77 99.92,212.70 100.46,212.64 101.00,212.58 101.54,212.52 102.08,212.48 102.62,212.43 103.16,212.39 103.70,212.35 104.24,212.31 104.78,212.28 105.32,212.24 105.86,212.21 106.40,212.19 106.94,212.16 107.48,212.13 108.02,212.11 108.56,212.08 109.10,212.06 109.64,212.04 110.18,212.02 110.72,212.00 111.26,211.99 111.80,211.97 112.34,211.95 112.88,211.94 113.42,211.93 113.96,211.91 114.50,211.90 115.40,207.20 116.90,207.22 118.41,207.24 119.91,207.26 121.42,207.28 122.92,207.30 124.42,207.31 125.93,207.33 127.43,207.34 128.93,207.36 130.44,207.37 131.94,207.38 133.44,207.40 134.95,207.41 136.45,207.42 137.96,207.43 139.46,207.45 140.96,207.45 142.47,207.46 143.97,207.47 145.47,207.48 146.98,207.48 148.48,207.49 149.99,207.49 151.49,207.49 152.99,207.49 154.50,207.50 156.00,207.50 157.50,207.50 159.01,207.50 160.51,207.50 162.02,207.50 163.52,207.50 165.02,207.50 166.53,207.50 168.03,207.50 169.53,207.50 171.04,207.50 172.54,207.50 174.05,207.50 175.55,207.50 177.05,207.50 178.56,207.50 180.06,207.50 181.56,207.50 183.07,207.50 184.57,207.50 186.08,207.50 187.58,207.50 189.08,207.50 190.59,207.50 192.09,207.50 193.59,207.50 195.10,207.50 196.60,207.50 198.11,207.50 199.61,207.50 201.11,207.50 202.62,207.50 204.12,207.50 205.62,207.50 207.13,207.50 208.63,207.50 210.14,207.50 211.64,207.50 213.14,207.50 214.65,207.50 216.15,207.50 217.65,207.50 219.16,207.50 220.66,207.50 222.17,207.50 223.67,207.50 225.17,207.50 226.68,207.50 228.18,207.50 229.69,207.50 231.19,207.50 232.69,207.50 234.20,207.50 235.70,207.50" fill="none" stroke="#000" stroke-width="1.0" stroke-linejoin="round" />
<polyline points="67.40,210.70 92.50,210.70 92.90,216.20 93.44,214.95 93.98,214.06 94.52,213.43 95.06,212.98 95.60,212.65 96.14,212.41 96.68,212.24 97.22,212.11 97.76,212.01 98.30,211.93 98.84,211.87 99.38,211.82 99.92,211.78 100.46,211.74 101.00,211.71 101.54,211.68 102.08,211.66 102.62,211.64 103.16,211.62 103.70,211.60 104.24,211.58 104.78,211.57 105.32,211.55 105.86,211.54 106.40,211.53 106.94,211.51 107.48,211.50 108.02,211.49 108.56,211.48 109.10,211.47 109.64,211.46 110.18,211.45 110.72,211.45 111.26,211.44 111.80,211.43 112.34,211.42 112.88,211.42 113.42,211.41 113.96,211.41 114.50,211.40 115.40,210.60 116.90,210.42 118.41,210.24 119.91,210.10 121.42,209.95 122.92,209.81 124.42,209.67 125.93,209.54 127.43,209.42 128.93,209.29 130.44,209.18 131.94,209.07 133.44,208.96 134.95,208.85 136.45,208.75 137.96,208.65 139.46,208.55 140.96,208.48 142.47,208.41 143.97,208.35 145.47,208.30 146.98,208.25 148.48,208.21 149.99,208.19 151.49,208.17 152.99,208.15 154.50,208.13 156.00,208.12 157.50,208.12 159.01,208.11 160.51,208.11 162.02,208.10 163.52,208.10 165.02,208.10 166.53,208.10 168.03,208.10 169.53,208.10 171.04,208.10 172.54,208.10 174.05,208.10 175.55,208.10 177.05,208.10 178.56,208.10 180.06,208.10 181.56,208.10 183.07,208.10 184.57,208.10 186.08,208.10 187.58,208.10 189.08,208.10 190.59,208.10 192.09,208.10 193.59,208.10 195.10,208.10 196.60,208.10 198.11,208.10 199.61,208.10 201.11,208.10 202.62,208.10 204.12,208.10 205.62,208.10 207.13,208.10 208.63,208.10 210.14,208.10 211.64,208.10 213.14,208.10 214.65,208.10 216.15,208.10 217.65,208.10 219.16,208.10 220.66,208.10 222.17,208.10 223.67,208.10 225.17,208.10 226.68,208.10 228.18,208.10 229.69,208.10 231.19,208.10 232.69,208.10 234.20,208.10 235.70,208.10" fill="none" stroke="#000" stroke-width="1.0" stroke-linejoin="round" />
<polyline points="67.40,424.30 92.50,424.30 92.90,457.30 93.44,462.23 93.98,466.35 94.52,469.80 95.06,472.66 95.60,475.05 96.14,477.02 96.68,478.64 97.22,479.97 97.76,481.05 98.30,481.91 98.84,482.60 99.38,483.14 99.92,483.54 100.46,483.84 101.00,484.05 101.54,484.18 102.08,484.24 102.62,484.25 103.16,484.21 103.70,484.13 104.24,484.02 104.78,483.87 105.32,483.71 105.86,483.52 106.40,483.32 106.94,483.10 107.48,482.87 108.02,482.62 108.56,482.37 109.10,482.11 109.64,481.85 110.18,481.58 110.72,481.30 111.26,481.03 111.80,480.74 112.34,480.46 112.88,480.17 113.42,479.88 113.96,479.59 114.50,479.30 115.40,354.50 116.90,356.26 118.41,358.01 119.91,359.76 121.42,361.49 122.92,363.22 124.42,364.94 125.93,366.65 127.43,368.35 128.93,370.05 130.44,371.73 131.94,373.41 133.44,375.07 134.95,376.73 136.45,378.37 137.96,380.01 139.46,381.64 140.96,383.25 142.47,384.86 143.97,386.45 145.47,388.03 146.98,389.60 148.48,391.16 149.99,392.70 151.49,394.24 152.99,395.75 154.50,397.26 156.00,398.75 157.50,400.22 159.01,401.68 160.51,403.13 162.02,404.55 163.52,405.96 165.02,407.34 166.53,408.71 168.03,410.06 169.53,411.38 171.04,412.68 172.54,413.95 174.05,415.19 175.55,416.40 177.05,417.57 178.56,418.70 180.06,419.78 181.56,420.80 183.07,421.75 184.57,422.57 186.08,422.90 187.58,422.90 189.08,422.90 190.59,422.90 192.09,422.90 193.59,422.90 195.10,422.90 196.60,422.90 198.11,422.90 199.61,422.90 201.11,422.90 202.62,422.90 204.12,422.90 205.62,422.90 207.13,422.90 208.63,422.90 210.14,422.90 211.64,422.90 213.14,422.90 214.65,422.90 216.15,422.90 217.65,422.90 219.16,422.90 220.66,422.90 222.17,422.90 223.67,422.90 225.17,422.90 226.68,422.90 228.18,422.90 229.69,422.90 231.19,422.90 232.69,422.90 234.20,422.90 235.70,422.90" fill="none" stroke="#0000ff" stroke-width="1.0" stroke-linejoin="round" />
<polyline points="115.40,354.50 116.90,356.26 118.41,358.01 119.91,359.76 121.42,361.49 122.92,363.22 124.42,364.94 125.93,366.65 127.43,368.35 128.93,370.05 130.44,371.73 131.94,373.41 133.44,375.07 134.95,376.73 136.45,378.37 137.96,380.01 139.46,381.64 140.96,383.25 142.47,384.86 143.97,386.45 145.47,388.03 146.98,389.60 148.48,391.16 149.99,392.70 151.49,394.24 152.99,395.75 154.50,397.26 156.00,398.75 157.50,400.22 159.01,401.68 160.51,403.13 162.02,404.55 163.52,405.96 165.02,407.34 166.53,408.71 168.03,410.06 169.53,411.38 171.04,412.68 172.54,413.95 174.05,415.19 175.55,416.40 177.05,417.57 178.56,418.70 180.06,419.78 181.56,420.80 183.07,421.75 184.57,422.57 186.08,422.90 187.58,422.90 189.08,422.90 190.59,422.90 192.09,422.90 193.59,422.90 195.10,422.90 196.60,422.90 198.11,422.90 199.61,422.90 201.11,422.90 202.62,422.90 204.12,422.90 205.62,422.90 207.13,422.90 208.63,422.90 210.14,422.90 211.64,422.90 213.14,422.90 214.65,422.90 216.15,422.90 217.65,422.90 219.16,422.90 220.66,422.90 222.17,422.90 223.67,422.90 225.17,422.90 226.68,422.90 228.18,422.90 229.69,422.90 231.19,422.90 232.69,422.90 234.20,422.90 235.70,422.90" fill="none" stroke="#0000ff" stroke-width="1.5" stroke-linejoin="round" />
<polyline points="67.40,424.30 92.50,424.30 92.90,457.30 93.44,460.81 93.98,463.84 94.52,466.45 95.06,468.70 95.60,470.62 96.14,472.28 96.68,473.69 97.22,474.89 97.76,475.91 98.30,476.78 98.84,477.50 99.38,478.11 99.92,478.61 100.46,479.02 101.00,479.35 101.54,479.61 102.08,479.81 102.62,479.96 103.16,480.07 103.70,480.13 104.24,480.16 104.78,480.16 105.32,480.14 105.86,480.09 106.40,480.02 106.94,479.94 107.48,479.84 108.02,479.73 108.56,479.60 109.10,479.47 109.64,479.32 110.18,479.17 110.72,479.02 111.26,478.86 111.80,478.69 112.34,478.52 112.88,478.34 113.42,478.16 113.96,477.98 114.50,477.80 115.40,356.10 116.90,357.84 118.41,359.58 119.91,361.30 121.42,363.02 122.92,364.73 124.42,366.43 125.93,368.12 127.43,369.81 128.93,371.48 130.44,373.15 131.94,374.81 133.44,376.46 134.95,378.10 136.45,379.73 137.96,381.34 139.46,382.95 140.96,384.55 142.47,386.14 143.97,387.71 145.47,389.28 146.98,390.83 148.48,392.37 149.99,393.90 151.49,395.42 152.99,396.92 154.50,398.40 156.00,399.88 157.50,401.33 159.01,402.78 160.51,404.20 162.02,405.61 163.52,407.00 165.02,408.37 166.53,409.72 168.03,411.05 169.53,412.35 171.04,413.63 172.54,414.89 174.05,416.11 175.55,417.30 177.05,418.45 178.56,419.56 180.06,420.62 181.56,421.62 183.07,422.54 184.57,423.31 186.08,423.50 187.58,423.50 189.08,423.50 190.59,423.50 192.09,423.50 193.59,423.50 195.10,423.50 196.60,423.50 198.11,423.50 199.61,423.50 201.11,423.50 202.62,423.50 204.12,423.50 205.62,423.50 207.13,423.50 208.63,423.50 210.14,423.50 211.64,423.50 213.14,423.50 214.65,423.50 216.15,423.50 217.65,423.50 219.16,423.50 220.66,423.50 222.17,423.50 223.67,423.50 225.17,423.50 226.68,423.50 228.18,423.50 229.69,423.50 231.19,423.50 232.69,423.50 234.20,423.50 235.70,423.50" fill="none" stroke="#0000ff" stroke-width="1.0" stroke-linejoin="round" />
<polyline points="67.40,424.30 92.50,424.30 92.90,456.30 93.44,457.28 93.98,458.21 94.52,459.09 95.06,459.92 95.60,460.71 96.14,461.45 96.68,462.15 97.22,462.82 97.76,463.45 98.30,464.04 98.84,464.61 99.38,465.14 99.92,465.64 100.46,466.12 101.00,466.57 101.54,467.00 102.08,467.40 102.62,467.78 103.16,468.15 103.70,468.49 104.24,468.81 104.78,469.12 105.32,469.41 105.86,469.68 106.40,469.94 106.94,470.18 107.48,470.41 108.02,470.63 108.56,470.84 109.10,471.04 109.64,471.22 110.18,471.40 110.72,471.56 111.26,471.72 111.80,471.87 112.34,472.01 112.88,472.14 113.42,472.27 113.96,472.39 114.50,472.50 115.40,357.90 116.90,359.62 118.41,361.33 119.91,363.04 121.42,364.73 122.92,366.42 124.42,368.10 125.93,369.77 127.43,371.44 128.93,373.09 130.44,374.74 131.94,376.37 133.44,378.00 134.95,379.62 136.45,381.23 137.96,382.82 139.46,384.41 140.96,385.99 142.47,387.55 143.97,389.11 145.47,390.65 146.98,392.19 148.48,393.71 149.99,395.21 151.49,396.71 152.99,398.19 154.50,399.65 156.00,401.11 157.50,402.54 159.01,403.97 160.51,405.37 162.02,406.76 163.52,408.13 165.02,409.48 166.53,410.81 168.03,412.11 169.53,413.40 171.04,414.66 172.54,415.89 174.05,417.09 175.55,418.26 177.05,419.39 178.56,420.48 180.06,421.51 181.56,422.48 183.07,423.35 184.57,424.06 186.08,424.10 187.58,424.10 189.08,424.10 190.59,424.10 192.09,424.10 193.59,424.10 195.10,424.10 196.60,424.10 198.11,424.10 199.61,424.10 201.11,424.10 202.62,424.10 204.12,424.10 205.62,424.10 207.13,424.10 208.63,424.10 210.14,424.10 211.64,424.10 213.14,424.10 214.65,424.10 216.15,424.10 217.65,424.10 219.16,424.10 220.66,424.10 222.17,424.10 223.67,424.10 225.17,424.10 226.68,424.10 228.18,424.10 229.69,424.10 231.19,424.10 232.69,424.10 234.20,424.10 235.70,424.10" fill="none" stroke="#0000ff" stroke-width="1.0" stroke-linejoin="round" />
<polyline points="67.40,424.30 92.50,424.30 92.90,454.80 93.44,455.50 93.98,456.17 94.52,456.80 95.06,457.39 95.60,457.96 96.14,458.49 96.68,458.99 97.22,459.47 97.76,459.92 98.30,460.35 98.84,460.75 99.38,461.13 99.92,461.49 100.46,461.83 101.00,462.16 101.54,462.46 102.08,462.75 102.62,463.02 103.16,463.28 103.70,463.53 104.24,463.76 104.78,463.98 105.32,464.18 105.86,464.38 106.40,464.57 106.94,464.74 107.48,464.91 108.02,465.06 108.56,465.21 109.10,465.35 109.64,465.49 110.18,465.61 110.72,465.73 111.26,465.84 111.80,465.95 112.34,466.05 112.88,466.14 113.42,466.23 113.96,466.32 114.50,466.40 115.40,362.20 116.90,363.82 118.41,365.44 119.91,367.05 121.42,368.65 122.92,370.24 124.42,371.83 125.93,373.41 127.43,374.98 128.93,376.54 130.44,378.09 131.94,379.63 133.44,381.17 134.95,382.69 136.45,384.21 137.96,385.71 139.46,387.21 140.96,388.69 142.47,390.17 143.97,391.63 145.47,393.08 146.98,394.52 148.48,395.95 149.99,397.37 151.49,398.77 152.99,400.16 154.50,401.54 156.00,402.90 157.50,404.25 159.01,405.58 160.51,406.90 162.02,408.19 163.52,409.47 165.02,410.73 166.53,411.97 168.03,413.19 169.53,414.38 171.04,415.54 172.54,416.68 174.05,417.78 175.55,418.85 177.05,419.88 178.56,420.85 180.06,421.76 181.56,422.58 183.07,423.20 184.57,423.20 186.08,423.20 187.58,423.20 189.08,423.20 190.59,423.20 192.09,423.20 193.59,423.20 195.10,423.20 196.60,423.20 198.11,423.20 199.61,423.20 201.11,423.20 202.62,423.20 204.12,423.20 205.62,423.20 207.13,423.20 208.63,423.20 210.14,423.20 211.64,423.20 213.14,423.20 214.65,423.20 216.15,423.20 217.65,423.20 219.16,423.20 220.66,423.20 222.17,423.20 223.67,423.20 225.17,423.20 226.68,423.20 228.18,423.20 229.69,423.20 231.19,423.20 232.69,423.20 234.20,423.20 235.70,423.20" fill="none" stroke="#0000ff" stroke-width="1.0" stroke-linejoin="round" />
<polyline points="67.40,424.30 92.50,424.30 92.90,452.30 93.44,452.78 93.98,453.24 94.52,453.68 95.06,454.09 95.60,454.48 96.14,454.84 96.68,455.19 97.22,455.52 97.76,455.83 98.30,456.12 98.84,456.40 99.38,456.67 99.92,456.91 100.46,457.15 101.00,457.37 101.54,457.58 102.08,457.78 102.62,457.97 103.16,458.15 103.70,458.32 104.24,458.48 104.78,458.63 105.32,458.77 105.86,458.91 106.40,459.04 106.94,459.16 107.48,459.27 108.02,459.38 108.56,459.48 109.10,459.58 109.64,459.67 110.18,459.76 110.72,459.84 111.26,459.92 111.80,459.99 112.34,460.06 112.88,460.12 113.42,460.19 113.96,460.24 114.50,460.30 115.40,367.30 116.90,368.84 118.41,370.37 119.91,371.90 121.42,373.41 122.92,374.92 124.42,376.42 125.93,377.92 127.43,379.40 128.93,380.88 130.44,382.35 131.94,383.81 133.44,385.26 134.95,386.70 136.45,388.14 137.96,389.56 139.46,390.98 140.96,392.38 142.47,393.77 143.97,395.16 145.47,396.53 146.98,397.89 148.48,399.24 149.99,400.57 151.49,401.90 152.99,403.21 154.50,404.50 156.00,405.79 157.50,407.05 159.01,408.30 160.51,409.54 162.02,410.76 163.52,411.95 165.02,413.13 166.53,414.29 168.03,415.43 169.53,416.53 171.04,417.62 172.54,418.67 174.05,419.68 175.55,420.66 177.05,421.59 178.56,422.45 180.06,423.23 181.56,423.80 183.07,423.80 184.57,423.80 186.08,423.80 187.58,423.80 189.08,423.80 190.59,423.80 192.09,423.80 193.59,423.80 195.10,423.80 196.60,423.80 198.11,423.80 199.61,423.80 201.11,423.80 202.62,423.80 204.12,423.80 205.62,423.80 207.13,423.80 208.63,423.80 210.14,423.80 211.64,423.80 213.14,423.80 214.65,423.80 216.15,423.80 217.65,423.80 219.16,423.80 220.66,423.80 222.17,423.80 223.67,423.80 225.17,423.80 226.68,423.80 228.18,423.80 229.69,423.80 231.19,423.80 232.69,423.80 234.20,423.80 235.70,423.80" fill="none" stroke="#0000ff" stroke-width="1.0" stroke-linejoin="round" />
<polyline points="67.40,424.30 92.50,424.30 92.90,449.30 93.44,449.65 93.98,449.97 94.52,450.28 95.06,450.57 95.60,450.85 96.14,451.11 96.68,451.36 97.22,451.59 97.76,451.82 98.30,452.02 98.84,452.22 99.38,452.41 99.92,452.59 100.46,452.76 101.00,452.91 101.54,453.06 102.08,453.21 102.62,453.34 103.16,453.47 103.70,453.59 104.24,453.70 104.78,453.81 105.32,453.91 105.86,454.01 106.40,454.10 106.94,454.18 107.48,454.27 108.02,454.34 108.56,454.42 109.10,454.49 109.64,454.55 110.18,454.61 110.72,454.67 111.26,454.73 111.80,454.78 112.34,454.83 112.88,454.87 113.42,454.92 113.96,454.96 114.50,455.00 115.40,370.90 116.90,372.35 118.41,373.80 119.91,375.24 121.42,376.67 122.92,378.09 124.42,379.51 125.93,380.91 127.43,382.31 128.93,383.71 130.44,385.09 131.94,386.47 133.44,387.83 134.95,389.19 136.45,390.54 137.96,391.88 139.46,393.21 140.96,394.53 142.47,395.84 143.97,397.14 145.47,398.43 146.98,399.71 148.48,400.98 149.99,402.23 151.49,403.47 152.99,404.70 154.50,405.92 156.00,407.12 157.50,408.30 159.01,409.47 160.51,410.62 162.02,411.76 163.52,412.88 165.02,413.97 166.53,415.04 168.03,416.09 169.53,417.12 171.04,418.11 172.54,419.07 174.05,419.99 175.55,420.87 177.05,421.68 178.56,422.41 180.06,422.90 181.56,422.90 183.07,422.90 184.57,422.90 186.08,422.90 187.58,422.90 189.08,422.90 190.59,422.90 192.09,422.90 193.59,422.90 195.10,422.90 196.60,422.90 198.11,422.90 199.61,422.90 201.11,422.90 202.62,422.90 204.12,422.90 205.62,422.90 207.13,422.90 208.63,422.90 210.14,422.90 211.64,422.90 213.14,422.90 214.65,422.90 216.15,422.90 217.65,422.90 219.16,422.90 220.66,422.90 222.17,422.90 223.67,422.90 225.17,422.90 226.68,422.90 228.18,422.90 229.69,422.90 231.19,422.90 232.69,422.90 234.20,422.90 235.70,422.90" fill="none" stroke="#0000ff" stroke-width="1.0" stroke-linejoin="round" />
<polyline points="67.40,424.30 92.50,424.30 92.90,446.30 93.44,446.55 93.98,446.80 94.52,447.02 95.06,447.24 95.60,447.44 96.14,447.64 96.68,447.82 97.22,447.99 97.76,448.15 98.30,448.31 98.84,448.45 99.38,448.59 99.92,448.72 100.46,448.85 101.00,448.96 101.54,449.07 102.08,449.18 102.62,449.28 103.16,449.37 103.70,449.46 104.24,449.54 104.78,449.62 105.32,449.70 105.86,449.77 106.40,449.84 106.94,449.90 107.48,449.96 108.02,450.02 108.56,450.07 109.10,450.12 109.64,450.17 110.18,450.21 110.72,450.26 111.26,450.30 111.80,450.34 112.34,450.37 112.88,450.41 113.42,450.44 113.96,450.47 114.50,450.50 115.40,376.00 116.90,377.36 118.41,378.72 119.91,380.07 121.42,381.41 122.92,382.75 124.42,384.07 125.93,385.39 127.43,386.71 128.93,388.01 130.44,389.31 131.94,390.60 133.44,391.88 134.95,393.15 136.45,394.41 137.96,395.67 139.46,396.91 140.96,398.15 142.47,399.37 143.97,400.59 145.47,401.79 146.98,402.99 148.48,404.17 149.99,405.34 151.49,406.50 152.99,407.64 154.50,408.77 156.00,409.89 157.50,410.99 159.01,412.08 160.51,413.14 162.02,414.19 163.52,415.23 165.02,416.24 166.53,417.22 168.03,418.18 169.53,419.12 171.04,420.02 172.54,420.88 174.05,421.70 175.55,422.46 177.05,423.13 178.56,423.50 180.06,423.50 181.56,423.50 183.07,423.50 184.57,423.50 186.08,423.50 187.58,423.50 189.08,423.50 190.59,423.50 192.09,423.50 193.59,423.50 195.10,423.50 196.60,423.50 198.11,423.50 199.61,423.50 201.11,423.50 202.62,423.50 204.12,423.50 205.62,423.50 207.13,423.50 208.63,423.50 210.14,423.50 211.64,423.50 213.14,423.50 214.65,423.50 216.15,423.50 217.65,423.50 219.16,423.50 220.66,423.50 222.17,423.50 223.67,423.50 225.17,423.50 226.68,423.50 228.18,423.50 229.69,423.50 231.19,423.50 232.69,423.50 234.20,423.50 235.70,423.50" fill="none" stroke="#0000ff" stroke-width="1.0" stroke-linejoin="round" />
<polyline points="67.40,424.30 92.50,424.30 92.90,442.80 93.44,442.94 93.98,443.07 94.52,443.20 95.06,443.31 95.60,443.43 96.14,443.53 96.68,443.63 97.22,443.73 97.76,443.81 98.30,443.90 98.84,443.98 99.38,444.06 99.92,444.13 100.46,444.19 101.00,444.26 101.54,444.32 102.08,444.38 102.62,444.43 103.16,444.48 103.70,444.53 104.24,444.58 104.78,444.62 105.32,444.66 105.86,444.70 106.40,444.74 106.94,444.77 107.48,444.80 108.02,444.84 108.56,444.86 109.10,444.89 109.64,444.92 110.18,444.94 110.72,444.97 111.26,444.99 111.80,445.01 112.34,445.03 112.88,445.05 113.42,445.07 113.96,445.08 114.50,445.10 115.40,381.10 116.90,382.37 118.41,383.64 119.91,384.89 121.42,386.14 122.92,387.39 124.42,388.63 125.93,389.86 127.43,391.08 128.93,392.30 130.44,393.50 131.94,394.70 133.44,395.89 134.95,397.08 136.45,398.25 137.96,399.42 139.46,400.58 140.96,401.72 142.47,402.86 143.97,403.99 145.47,405.11 146.98,406.21 148.48,407.31 149.99,408.39 151.49,409.46 152.99,410.52 154.50,411.56 156.00,412.59 157.50,413.61 159.01,414.61 160.51,415.59 162.02,416.55 163.52,417.50 165.02,418.42 166.53,419.31 168.03,420.18 169.53,421.02 171.04,421.82 172.54,422.58 174.05,423.28 175.55,423.88 177.05,424.10 178.56,424.10 180.06,424.10 181.56,424.10 183.07,424.10 184.57,424.10 186.08,424.10 187.58,424.10 189.08,424.10 190.59,424.10 192.09,424.10 193.59,424.10 195.10,424.10 196.60,424.10 198.11,424.10 199.61,424.10 201.11,424.10 202.62,424.10 204.12,424.10 205.62,424.10 207.13,424.10 208.63,424.10 210.14,424.10 211.64,424.10 213.14,424.10 214.65,424.10 216.15,424.10 217.65,424.10 219.16,424.10 220.66,424.10 222.17,424.10 223.67,424.10 225.17,424.10 226.68,424.10 228.18,424.10 229.69,424.10 231.19,424.10 232.69,424.10 234.20,424.10 235.70,424.10" fill="none" stroke="#0000ff" stroke-width="1.0" stroke-linejoin="round" />
<polyline points="67.40,424.30 92.50,424.30 92.90,440.30 93.44,440.32 93.98,440.34 94.52,440.35 95.06,440.37 95.60,440.38 96.14,440.40 96.68,440.41 97.22,440.42 97.76,440.43 98.30,440.44 98.84,440.45 99.38,440.46 99.92,440.47 100.46,440.48 101.00,440.49 101.54,440.50 102.08,440.51 102.62,440.51 103.16,440.52 103.70,440.53 104.24,440.53 104.78,440.54 105.32,440.54 105.86,440.55 106.40,440.55 106.94,440.56 107.48,440.56 108.02,440.57 108.56,440.57 109.10,440.57 109.64,440.58 110.18,440.58 110.72,440.58 111.26,440.59 111.80,440.59 112.34,440.59 112.88,440.59 113.42,440.60 113.96,440.60 114.50,440.60 115.40,384.70 116.90,385.88 118.41,387.05 119.91,388.21 121.42,389.37 122.92,390.52 124.42,391.66 125.93,392.80 127.43,393.93 128.93,395.05 130.44,396.17 131.94,397.28 133.44,398.38 134.95,399.47 136.45,400.55 137.96,401.63 139.46,402.69 140.96,403.75 142.47,404.80 143.97,405.84 145.47,406.86 146.98,407.88 148.48,408.89 149.99,409.88 151.49,410.86 152.99,411.83 154.50,412.79 156.00,413.73 157.50,414.65 159.01,415.56 160.51,416.45 162.02,417.33 163.52,418.18 165.02,419.00 166.53,419.81 168.03,420.58 169.53,421.31 171.04,422.00 172.54,422.63 174.05,423.14 175.55,423.20 177.05,423.20 178.56,423.20 180.06,423.20 181.56,423.20 183.07,423.20 184.57,423.20 186.08,423.20 187.58,423.20 189.08,423.20 190.59,423.20 192.09,423.20 193.59,423.20 195.10,423.20 196.60,423.20 198.11,423.20 199.61,423.20 201.11,423.20 202.62,423.20 204.12,423.20 205.62,423.20 207.13,423.20 208.63,423.20 210.14,423.20 211.64,423.20 213.14,423.20 214.65,423.20 216.15,423.20 217.65,423.20 219.16,423.20 220.66,423.20 222.17,423.20 223.67,423.20 225.17,423.20 226.68,423.20 228.18,423.20 229.69,423.20 231.19,423.20 232.69,423.20 234.20,423.20 235.70,423.20" fill="none" stroke="#0000ff" stroke-width="1.0" stroke-linejoin="round" />
<polyline points="67.40,424.30 92.50,424.30 92.90,437.80 93.44,437.74 93.98,437.68 94.52,437.63 95.06,437.58 95.60,437.53 96.14,437.48 96.68,437.44 97.22,437.40 97.76,437.36 98.30,437.32 98.84,437.29 99.38,437.25 99.92,437.22 100.46,437.19 101.00,437.17 101.54,437.14 102.08,437.11 102.62,437.09 103.16,437.07 103.70,437.05 104.24,437.03 104.78,437.01 105.32,436.99 105.86,436.97 106.40,436.96 106.94,436.94 107.48,436.93 108.02,436.92 108.56,436.90 109.10,436.89 109.64,436.88 110.18,436.87 110.72,436.86 111.26,436.85 111.80,436.84 112.34,436.83 112.88,436.82 113.42,436.81 113.96,436.81 114.50,436.80 115.40,389.80 116.90,390.88 118.41,391.95 119.91,393.02 121.42,394.08 122.92,395.13 124.42,396.18 125.93,397.22 127.43,398.25 128.93,399.28 130.44,400.30 131.94,401.31 133.44,402.32 134.95,403.32 136.45,404.30 137.96,405.29 139.46,406.26 140.96,407.22 142.47,408.18 143.97,409.12 145.47,410.06 146.98,410.98 148.48,411.89 149.99,412.79 151.49,413.68 152.99,414.56 154.50,415.42 156.00,416.27 157.50,417.10 159.01,417.92 160.51,418.72 162.02,419.50 163.52,420.25 165.02,420.98 166.53,421.68 168.03,422.34 169.53,422.95 171.04,423.49 172.54,423.80 174.05,423.80 175.55,423.80 177.05,423.80 178.56,423.80 180.06,423.80 181.56,423.80 183.07,423.80 184.57,423.80 186.08,423.80 187.58,423.80 189.08,423.80 190.59,423.80 192.09,423.80 193.59,423.80 195.10,423.80 196.60,423.80 198.11,423.80 199.61,423.80 201.11,423.80 202.62,423.80 204.12,423.80 205.62,423.80 207.13,423.80 208.63,423.80 210.14,423.80 211.64,423.80 213.14,423.80 214.65,423.80 216.15,423.80 217.65,423.80 219.16,423.80 220.66,423.80 222.17,423.80 223.67,423.80 225.17,423.80 226.68,423.80 228.18,423.80 229.69,423.80 231.19,423.80 232.69,423.80 234.20,423.80 235.70,423.80" fill="none" stroke="#0000ff" stroke-width="1.0" stroke-linejoin="round" />
<polyline points="67.40,424.30 92.50,424.30 92.90,435.30 93.44,435.16 93.98,435.03 94.52,434.90 95.06,434.79 95.60,434.67 96.14,434.57 96.68,434.47 97.22,434.37 97.76,434.29 98.30,434.20 98.84,434.12 99.38,434.04 99.92,433.97 100.46,433.91 101.00,433.84 101.54,433.78 102.08,433.72 102.62,433.67 103.16,433.62 103.70,433.57 104.24,433.52 104.78,433.48 105.32,433.44 105.86,433.40 106.40,433.36 106.94,433.33 107.48,433.30 108.02,433.26 108.56,433.24 109.10,433.21 109.64,433.18 110.18,433.16 110.72,433.13 111.26,433.11 111.80,433.09 112.34,433.07 112.88,433.05 113.42,433.03 113.96,433.02 114.50,433.00 115.40,393.40 116.90,394.38 118.41,395.35 119.91,396.31 121.42,397.27 122.92,398.22 124.42,399.17 125.93,400.11 127.43,401.05 128.93,401.97 130.44,402.89 131.94,403.81 133.44,404.71 134.95,405.61 136.45,406.50 137.96,407.39 139.46,408.26 140.96,409.13 142.47,409.99 143.97,410.83 145.47,411.67 146.98,412.50 148.48,413.32 149.99,414.12 151.49,414.92 152.99,415.70 154.50,416.46 156.00,417.22 157.50,417.95 159.01,418.67 160.51,419.37 162.02,420.04 163.52,420.69 165.02,421.31 166.53,421.89 168.03,422.42 169.53,422.85 171.04,422.90 172.54,422.90 174.05,422.90 175.55,422.90 177.05,422.90 178.56,422.90 180.06,422.90 181.56,422.90 183.07,422.90 184.57,422.90 186.08,422.90 187.58,422.90 189.08,422.90 190.59,422.90 192.09,422.90 193.59,422.90 195.10,422.90 196.60,422.90 198.11,422.90 199.61,422.90 201.11,422.90 202.62,422.90 204.12,422.90 205.62,422.90 207.13,422.90 208.63,422.90 210.14,422.90 211.64,422.90 213.14,422.90 214.65,422.90 216.15,422.90 217.65,422.90 219.16,422.90 220.66,422.90 222.17,422.90 223.67,422.90 225.17,422.90 226.68,422.90 228.18,422.90 229.69,422.90 231.19,422.90 232.69,422.90 234.20,422.90 235.70,422.90" fill="none" stroke="#0000ff" stroke-width="1.0" stroke-linejoin="round" />
<polyline points="67.40,424.30 92.50,424.30 92.90,432.80 93.44,432.70 93.98,432.60 94.52,432.50 95.06,432.40 95.60,432.31 96.14,432.22 96.68,432.13 97.22,432.04 97.76,431.95 98.30,431.87 98.84,431.79 99.38,431.70 99.92,431.63 100.46,431.55 101.00,431.47 101.54,431.40 102.08,431.32 102.62,431.25 103.16,431.18 103.70,431.11 104.24,431.05 104.78,430.98 105.32,430.91 105.86,430.85 106.40,430.79 106.94,430.73 107.48,430.67 108.02,430.61 108.56,430.55 109.10,430.50 109.64,430.44 110.18,430.39 110.72,430.34 111.26,430.29 111.80,430.24 112.34,430.19 112.88,430.14 113.42,430.09 113.96,430.05 114.50,430.00 115.40,398.50 116.90,399.37 118.41,400.23 119.91,401.09 121.42,401.94 122.92,402.79 124.42,403.63 125.93,404.47 127.43,405.30 128.93,406.12 130.44,406.94 131.94,407.75 133.44,408.55 134.95,409.35 136.45,410.14 137.96,410.92 139.46,411.69 140.96,412.46 142.47,413.22 143.97,413.96 145.47,414.70 146.98,415.43 148.48,416.14 149.99,416.85 151.49,417.54 152.99,418.22 154.50,418.89 156.00,419.54 157.50,420.17 159.01,420.78 160.51,421.37 162.02,421.94 163.52,422.47 165.02,422.96 166.53,423.37 168.03,423.50 169.53,423.50 171.04,423.50 172.54,423.50 174.05,423.50 175.55,423.50 177.05,423.50 178.56,423.50 180.06,423.50 181.56,423.50 183.07,423.50 184.57,423.50 186.08,423.50 187.58,423.50 189.08,423.50 190.59,423.50 192.09,423.50 193.59,423.50 195.10,423.50 196.60,423.50 198.11,423.50 199.61,423.50 201.11,423.50 202.62,423.50 204.12,423.50 205.62,423.50 207.13,423.50 208.63,423.50 210.14,423.50 211.64,423.50 213.14,423.50 214.65,423.50 216.15,423.50 217.65,423.50 219.16,423.50 220.66,423.50 222.17,423.50 223.67,423.50 225.17,423.50 226.68,423.50 228.18,423.50 229.69,423.50 231.19,423.50 232.69,423.50 234.20,423.50 235.70,423.50" fill="none" stroke="#0000ff" stroke-width="1.0" stroke-linejoin="round" />
<polyline points="67.40,424.30 92.50,424.30 92.90,430.80 93.44,430.69 93.98,430.58 94.52,430.47 95.06,430.36 95.60,430.26 96.14,430.16 96.68,430.06 97.22,429.96 97.76,429.86 98.30,429.77 98.84,429.68 99.38,429.59 99.92,429.50 100.46,429.41 101.00,429.33 101.54,429.25 102.08,429.16 102.62,429.09 103.16,429.01 103.70,428.93 104.24,428.86 104.78,428.78 105.32,428.71 105.86,428.64 106.40,428.57 106.94,428.51 107.48,428.44 108.02,428.38 108.56,428.31 109.10,428.25 109.64,428.19 110.18,428.13 110.72,428.07 111.26,428.02 111.80,427.96 112.34,427.91 112.88,427.85 113.42,427.80 113.96,427.75 114.50,427.70 115.40,403.60 116.90,404.36 118.41,405.11 119.91,405.85 121.42,406.60 122.92,407.33 124.42,408.06 125.93,408.79 127.43,409.51 128.93,410.22 130.44,410.93 131.94,411.63 133.44,412.33 134.95,413.01 136.45,413.70 137.96,414.37 139.46,415.04 140.96,415.69 142.47,416.34 143.97,416.98 145.47,417.61 146.98,418.24 148.48,418.85 149.99,419.44 151.49,420.03 152.99,420.60 154.50,421.16 156.00,421.70 157.50,422.22 159.01,422.72 160.51,423.19 162.02,423.62 163.52,423.99 165.02,424.10 166.53,424.10 168.03,424.10 169.53,424.10 171.04,424.10 172.54,424.10 174.05,424.10 175.55,424.10 177.05,424.10 178.56,424.10 180.06,424.10 181.56,424.10 183.07,424.10 184.57,424.10 186.08,424.10 187.58,424.10 189.08,424.10 190.59,424.10 192.09,424.10 193.59,424.10 195.10,424.10 196.60,424.10 198.11,424.10 199.61,424.10 201.11,424.10 202.62,424.10 204.12,424.10 205.62,424.10 207.13,424.10 208.63,424.10 210.14,424.10 211.64,424.10 213.14,424.10 214.65,424.10 216.15,424.10 217.65,424.10 219.16,424.10 220.66,424.10 222.17,424.10 223.67,424.10 225.17,424.10 226.68,424.10 228.18,424.10 229.69,424.10 231.19,424.10 232.69,424.10 234.20,424.10 235.70,424.10" fill="none" stroke="#0000ff" stroke-width="1.0" stroke-linejoin="round" />
<polyline points="67.40,424.30 92.50,424.30 92.90,428.80 93.44,428.68 93.98,428.55 94.52,428.44 95.06,428.32 95.60,428.21 96.14,428.09 96.68,427.98 97.22,427.88 97.76,427.77 98.30,427.67 98.84,427.57 99.38,427.47 99.92,427.37 100.46,427.28 101.00,427.19 101.54,427.10 102.08,427.01 102.62,426.92 103.16,426.83 103.70,426.75 104.24,426.67 104.78,426.59 105.32,426.51 105.86,426.43 106.40,426.36 106.94,426.29 107.48,426.21 108.02,426.14 108.56,426.07 109.10,426.01 109.64,425.94 110.18,425.87 110.72,425.81 111.26,425.75 111.80,425.69 112.34,425.63 112.88,425.57 113.42,425.51 113.96,425.46 114.50,425.40 115.40,407.20 116.90,407.84 118.41,408.47 119.91,409.09 121.42,409.72 122.92,410.33 124.42,410.95 125.93,411.55 127.43,412.16 128.93,412.75 130.44,413.34 131.94,413.93 133.44,414.51 134.95,415.08 136.45,415.65 137.96,416.21 139.46,416.76 140.96,417.30 142.47,417.84 143.97,418.37 145.47,418.88 146.98,419.39 148.48,419.89 149.99,420.37 151.49,420.84 152.99,421.30 154.50,421.74 156.00,422.15 157.50,422.54 159.01,422.90 160.51,423.18 162.02,423.20 163.52,423.20 165.02,423.20 166.53,423.20 168.03,423.20 169.53,423.20 171.04,423.20 172.54,423.20 174.05,423.20 175.55,423.20 177.05,423.20 178.56,423.20 180.06,423.20 181.56,423.20 183.07,423.20 184.57,423.20 186.08,423.20 187.58,423.20 189.08,423.20 190.59,423.20 192.09,423.20 193.59,423.20 195.10,423.20 196.60,423.20 198.11,423.20 199.61,423.20 201.11,423.20 202.62,423.20 204.12,423.20 205.62,423.20 207.13,423.20 208.63,423.20 210.14,423.20 211.64,423.20 213.14,423.20 214.65,423.20 216.15,423.20 217.65,423.20 219.16,423.20 220.66,423.20 222.17,423.20 223.67,423.20 225.17,423.20 226.68,423.20 228.18,423.20 229.69,423.20 231.19,423.20 232.69,423.20 234.20,423.20 235.70,423.20" fill="none" stroke="#0000ff" stroke-width="1.0" stroke-linejoin="round" />
<polyline points="67.40,424.30 92.50,424.30 92.90,427.30 93.44,427.18 93.98,427.05 94.52,426.94 95.06,426.82 95.60,426.71 96.14,426.59 96.68,426.48 97.22,426.38 97.76,426.27 98.30,426.17 98.84,426.07 99.38,425.97 99.92,425.87 100.46,425.78 101.00,425.69 101.54,425.60 102.08,425.51 102.62,425.42 103.16,425.33 103.70,425.25 104.24,425.17 104.78,425.09 105.32,425.01 105.86,424.93 106.40,424.86 106.94,424.79 107.48,424.71 108.02,424.64 108.56,424.57 109.10,424.51 109.64,424.44 110.18,424.37 110.72,424.31 111.26,424.25 111.80,424.19 112.34,424.13 112.88,424.07 113.42,424.01 113.96,423.96 114.50,423.90 115.40,411.80 116.90,412.32 118.41,412.84 119.91,413.35 121.42,413.85 122.92,414.36 124.42,414.86 125.93,415.35 127.43,415.84 128.93,416.32 130.44,416.80 131.94,417.28 133.44,417.75 134.95,418.21 136.45,418.66 137.96,419.11 139.46,419.56 140.96,419.99 142.47,420.42 143.97,420.83 145.47,421.24 146.98,421.64 148.48,422.03 149.99,422.40 151.49,422.75 152.99,423.09 154.50,423.40 156.00,423.67 157.50,423.80 159.01,423.80 160.51,423.80 162.02,423.80 163.52,423.80 165.02,423.80 166.53,423.80 168.03,423.80 169.53,423.80 171.04,423.80 172.54,423.80 174.05,423.80 175.55,423.80 177.05,423.80 178.56,423.80 180.06,423.80 181.56,423.80 183.07,423.80 184.57,423.80 186.08,423.80 187.58,423.80 189.08,423.80 190.59,423.80 192.09,423.80 193.59,423.80 195.10,423.80 196.60,423.80 198.11,423.80 199.61,423.80 201.11,423.80 202.62,423.80 204.12,423.80 205.62,423.80 207.13,423.80 208.63,423.80 210.14,423.80 211.64,423.80 213.14,423.80 214.65,423.80 216.15,423.80 217.65,423.80 219.16,423.80 220.66,423.80 222.17,423.80 223.67,423.80 225.17,423.80 226.68,423.80 228.18,423.80 229.69,423.80 231.19,423.80 232.69,423.80 234.20,423.80 235.70,423.80" fill="none" stroke="#0000ff" stroke-width="1.0" stroke-linejoin="round" />
<polyline points="67.40,424.30 92.50,424.30 92.90,426.30 93.44,426.16 93.98,426.02 94.52,425.88 95.06,425.75 95.60,425.62 96.14,425.49 96.68,425.36 97.22,425.24 97.76,425.12 98.30,425.00 98.84,424.89 99.38,424.77 99.92,424.66 100.46,424.55 101.00,424.45 101.54,424.34 102.08,424.24 102.62,424.14 103.16,424.05 103.70,423.95 104.24,423.86 104.78,423.76 105.32,423.67 105.86,423.59 106.40,423.50 106.94,423.42 107.48,423.33 108.02,423.25 108.56,423.17 109.10,423.09 109.64,423.02 110.18,422.94 110.72,422.87 111.26,422.80 111.80,422.73 112.34,422.66 112.88,422.59 113.42,422.53 113.96,422.46 114.50,422.40 115.40,414.90 116.90,415.29 118.41,415.68 119.91,416.06 121.42,416.44 122.92,416.82 124.42,417.19 125.93,417.56 127.43,417.93 128.93,418.29 130.44,418.64 131.94,418.99 133.44,419.34 134.95,419.68 136.45,420.01 137.96,420.34 139.46,420.66 140.96,420.98 142.47,421.28 143.97,421.58 145.47,421.86 146.98,422.14 148.48,422.39 149.99,422.63 151.49,422.83 152.99,422.90 154.50,422.90 156.00,422.90 157.50,422.90 159.01,422.90 160.51,422.90 162.02,422.90 163.52,422.90 165.02,422.90 166.53,422.90 168.03,422.90 169.53,422.90 171.04,422.90 172.54,422.90 174.05,422.90 175.55,422.90 177.05,422.90 178.56,422.90 180.06,422.90 181.56,422.90 183.07,422.90 184.57,422.90 186.08,422.90 187.58,422.90 189.08,422.90 190.59,422.90 192.09,422.90 193.59,422.90 195.10,422.90 196.60,422.90 198.11,422.90 199.61,422.90 201.11,422.90 202.62,422.90 204.12,422.90 205.62,422.90 207.13,422.90 208.63,422.90 210.14,422.90 211.64,422.90 213.14,422.90 214.65,422.90 216.15,422.90 217.65,422.90 219.16,422.90 220.66,422.90 222.17,422.90 223.67,422.90 225.17,422.90 226.68,422.90 228.18,422.90 229.69,422.90 231.19,422.90 232.69,422.90 234.20,422.90 235.70,422.90" fill="none" stroke="#0000ff" stroke-width="1.0" stroke-linejoin="round" />
<polyline points="67.40,424.30 92.50,424.30 92.90,425.50 93.44,425.34 93.98,425.18 94.52,425.03 95.06,424.88 95.60,424.73 96.14,424.59 96.68,424.44 97.22,424.31 97.76,424.17 98.30,424.04 98.84,423.91 99.38,423.78 99.92,423.65 100.46,423.53 101.00,423.41 101.54,423.29 102.08,423.18 102.62,423.07 103.16,422.96 103.70,422.85 104.24,422.74 104.78,422.64 105.32,422.54 105.86,422.44 106.40,422.34 106.94,422.25 107.48,422.15 108.02,422.06 108.56,421.97 109.10,421.88 109.64,421.80 110.18,421.71 110.72,421.63 111.26,421.55 111.80,421.47 112.34,421.39 112.88,421.32 113.42,421.24 113.96,421.17 114.50,421.10 115.40,419.00 116.90,419.26 118.41,419.52 119.91,419.78 121.42,420.03 122.92,420.28 124.42,420.52 125.93,420.77 127.43,421.01 128.93,421.24 130.44,421.48 131.94,421.70 133.44,421.93 134.95,422.14 136.45,422.36 137.96,422.56 139.46,422.76 140.96,422.95 142.47,423.13 143.97,423.29 145.47,423.44 146.98,423.50 148.48,423.50 149.99,423.50 151.49,423.50 152.99,423.50 154.50,423.50 156.00,423.50 157.50,423.50 159.01,423.50 160.51,423.50 162.02,423.50 163.52,423.50 165.02,423.50 166.53,423.50 168.03,423.50 169.53,423.50 171.04,423.50 172.54,423.50 174.05,423.50 175.55,423.50 177.05,423.50 178.56,423.50 180.06,423.50 181.56,423.50 183.07,423.50 184.57,423.50 186.08,423.50 187.58,423.50 189.08,423.50 190.59,423.50 192.09,423.50 193.59,423.50 195.10,423.50 196.60,423.50 198.11,423.50 199.61,423.50 201.11,423.50 202.62,423.50 204.12,423.50 205.62,423.50 207.13,423.50 208.63,423.50 210.14,423.50 211.64,423.50 213.14,423.50 214.65,423.50 216.15,423.50 217.65,423.50 219.16,423.50 220.66,423.50 222.17,423.50 223.67,423.50 225.17,423.50 226.68,423.50 228.18,423.50 229.69,423.50 231.19,423.50 232.69,423.50 234.20,423.50 235.70,423.50" fill="none" stroke="#0000ff" stroke-width="1.0" stroke-linejoin="round" />
<polyline points="67.40,424.30 92.50,424.30 92.90,424.80 93.44,424.63 93.98,424.46 94.52,424.30 95.06,424.14 95.60,423.98 96.14,423.82 96.68,423.67 97.22,423.52 97.76,423.38 98.30,423.24 98.84,423.10 99.38,422.96 99.92,422.83 100.46,422.70 101.00,422.57 101.54,422.44 102.08,422.32 102.62,422.20 103.16,422.08 103.70,421.97 104.24,421.85 104.78,421.74 105.32,421.64 105.86,421.53 106.40,421.43 106.94,421.32 107.48,421.22 108.02,421.13 108.56,421.03 109.10,420.94 109.64,420.85 110.18,420.76 110.72,420.67 111.26,420.58 111.80,420.50 112.34,420.41 112.88,420.33 113.42,420.25 113.96,420.18 114.50,420.10 115.40,422.60 116.90,422.69 118.41,422.78 119.91,422.87 121.42,422.95 122.92,423.04 124.42,423.13 125.93,423.21 127.43,423.29 128.93,423.37 130.44,423.45 131.94,423.53 133.44,423.61 134.95,423.68 136.45,423.75 137.96,423.82 139.46,423.89 140.96,423.95 142.47,424.01 143.97,424.07 145.47,424.10 146.98,424.10 148.48,424.10 149.99,424.10 151.49,424.10 152.99,424.10 154.50,424.10 156.00,424.10 157.50,424.10 159.01,424.10 160.51,424.10 162.02,424.10 163.52,424.10 165.02,424.10 166.53,424.10 168.03,424.10 169.53,424.10 171.04,424.10 172.54,424.10 174.05,424.10 175.55,424.10 177.05,424.10 178.56,424.10 180.06,424.10 181.56,424.10 183.07,424.10 184.57,424.10 186.08,424.10 187.58,424.10 189.08,424.10 190.59,424.10 192.09,424.10 193.59,424.10 195.10,424.10 196.60,424.10 198.11,424.10 199.61,424.10 201.11,424.10 202.62,424.10 204.12,424.10 205.62,424.10 207.13,424.10 208.63,424.10 210.14,424.10 211.64,424.10 213.14,424.10 214.65,424.10 216.15,424.10 217.65,424.10 219.16,424.10 220.66,424.10 222.17,424.10 223.67,424.10 225.17,424.10 226.68,424.10 228.18,424.10 229.69,424.10 231.19,424.10 232.69,424.10 234.20,424.10 235.70,424.10" fill="none" stroke="#0000ff" stroke-width="1.0" stroke-linejoin="round" />
<line x1="180.00" y1="251.30" x2="180.00" y2="278.80" stroke="#000" stroke-width="1.8" />
<line x1="179.10" y1="278.80" x2="202.50" y2="278.80" stroke="#000" stroke-width="1.8" />
<text x="155.10" y="262.00" font-size="14" text-anchor="middle" >100</text>
<text x="155.00" y="277.40" font-size="14" text-anchor="middle" >pA/pF</text>
<text x="193.60" y="294.60" font-size="14" text-anchor="middle" >10 ms</text>
<text x="295.80" y="104.80" font-size="17.5" text-anchor="start" >(c)</text>
<line x1="317.00" y1="124.90" x2="317.00" y2="260.90" stroke="#000" stroke-width="1.9" />
<line x1="311.80" y1="125.40" x2="317.00" y2="125.40" stroke="#000" stroke-width="1.9" />
<line x1="314.00" y1="147.80" x2="317.00" y2="147.80" stroke="#000" stroke-width="1.9" />
<line x1="314.00" y1="192.60" x2="317.00" y2="192.60" stroke="#000" stroke-width="1.9" />
<line x1="311.80" y1="215.00" x2="317.00" y2="215.00" stroke="#000" stroke-width="1.9" />
<line x1="314.00" y1="237.40" x2="317.00" y2="237.40" stroke="#000" stroke-width="1.9" />
<line x1="311.80" y1="259.80" x2="317.00" y2="259.80" stroke="#000" stroke-width="1.9" />
<line x1="311.80" y1="170.20" x2="474.60" y2="170.20" stroke="#000" stroke-width="1.9" />
<line x1="323.42" y1="167.50" x2="323.42" y2="173.20" stroke="#000" stroke-width="1.9" />
<line x1="331.78" y1="167.50" x2="331.78" y2="173.20" stroke="#000" stroke-width="1.9" />
<line x1="340.14" y1="167.50" x2="340.14" y2="173.20" stroke="#000" stroke-width="1.9" />
<line x1="348.50" y1="165.10" x2="348.50" y2="175.20" stroke="#000" stroke-width="1.9" />
<line x1="356.86" y1="167.50" x2="356.86" y2="173.20" stroke="#000" stroke-width="1.9" />
<line x1="365.22" y1="167.50" x2="365.22" y2="173.20" stroke="#000" stroke-width="1.9" />
<line x1="373.58" y1="167.50" x2="373.58" y2="173.20" stroke="#000" stroke-width="1.9" />
<line x1="381.94" y1="167.50" x2="381.94" y2="173.20" stroke="#000" stroke-width="1.9" />
<line x1="390.30" y1="165.10" x2="390.30" y2="175.20" stroke="#000" stroke-width="1.9" />
<line x1="398.66" y1="167.50" x2="398.66" y2="173.20" stroke="#000" stroke-width="1.9" />
<line x1="407.02" y1="167.50" x2="407.02" y2="173.20" stroke="#000" stroke-width="1.9" />
<line x1="415.38" y1="167.50" x2="415.38" y2="173.20" stroke="#000" stroke-width="1.9" />
<line x1="423.74" y1="167.50" x2="423.74" y2="173.20" stroke="#000" stroke-width="1.9" />
<line x1="432.10" y1="165.10" x2="432.10" y2="175.20" stroke="#000" stroke-width="1.9" />
<line x1="440.46" y1="167.50" x2="440.46" y2="173.20" stroke="#000" stroke-width="1.9" />
<line x1="448.82" y1="167.50" x2="448.82" y2="173.20" stroke="#000" stroke-width="1.9" />
<line x1="457.18" y1="167.50" x2="457.18" y2="173.20" stroke="#000" stroke-width="1.9" />
<line x1="465.54" y1="167.50" x2="465.54" y2="173.20" stroke="#000" stroke-width="1.9" />
<line x1="473.90" y1="165.10" x2="473.90" y2="175.20" stroke="#000" stroke-width="1.9" />
<text x="305.30" y="130.50" font-size="14" text-anchor="end" >0.5</text>
<text x="305.30" y="175.30" font-size="14" text-anchor="end" >0.0</text>
<text x="305.30" y="220.10" font-size="14" text-anchor="end" >-0.5</text>
<text x="305.30" y="264.90" font-size="14" text-anchor="end" >-1.0</text>
<text x="348.50" y="195.20" font-size="14" text-anchor="middle" >-110</text>
<text x="390.30" y="195.20" font-size="14" text-anchor="middle" >-60</text>
<text x="432.10" y="195.20" font-size="14" text-anchor="middle" >-10</text>
<text x="473.90" y="195.20" font-size="14" text-anchor="middle" >40</text>
<text x="408.0" y="216.3" font-size="14">V<tspan font-size="9.5" dy="4">C</tspan><tspan dy="-4"> (mV)</tspan></text>
<text transform="translate(266.5,227.5) rotate(-90)" font-size="12.8">I/I<tspan font-size="9.6" dy="4">(max_inward)</tspan></text>
<polyline points="323.42,259.80 331.78,249.05 340.14,235.61 348.50,221.27 356.86,207.83 365.22,192.60 373.58,180.06 381.94,168.41 390.30,157.21 398.66,147.80 407.02,144.22 415.38,141.53 423.74,139.74 432.10,139.74 440.46,141.08 448.82,143.32 457.18,145.56 465.54,148.25" fill="none" stroke="#808080" stroke-width="1.6" stroke-linejoin="round" />
<line x1="320.42" y1="255.30" x2="326.42" y2="255.30" stroke="#000" stroke-width="1.4" />
<line x1="323.42" y1="255.30" x2="323.42" y2="259.80" stroke="#000" stroke-width="1.4" />
<rect x="320.22" y="256.60" width="6.4" height="6.4" fill="#808080" stroke="#000" stroke-width="1.6"/>
<line x1="328.78" y1="244.55" x2="334.78" y2="244.55" stroke="#000" stroke-width="1.4" />
<line x1="331.78" y1="244.55" x2="331.78" y2="249.05" stroke="#000" stroke-width="1.4" />
<rect x="328.58" y="245.85" width="6.4" height="6.4" fill="#808080" stroke="#000" stroke-width="1.6"/>
<line x1="337.14" y1="231.11" x2="343.14" y2="231.11" stroke="#000" stroke-width="1.4" />
<line x1="340.14" y1="231.11" x2="340.14" y2="235.61" stroke="#000" stroke-width="1.4" />
<rect x="336.94" y="232.41" width="6.4" height="6.4" fill="#808080" stroke="#000" stroke-width="1.6"/>
<line x1="345.50" y1="216.77" x2="351.50" y2="216.77" stroke="#000" stroke-width="1.4" />
<line x1="348.50" y1="216.77" x2="348.50" y2="221.27" stroke="#000" stroke-width="1.4" />
<rect x="345.30" y="218.07" width="6.4" height="6.4" fill="#808080" stroke="#000" stroke-width="1.6"/>
<line x1="353.86" y1="203.33" x2="359.86" y2="203.33" stroke="#000" stroke-width="1.4" />
<line x1="356.86" y1="203.33" x2="356.86" y2="207.83" stroke="#000" stroke-width="1.4" />
<rect x="353.66" y="204.63" width="6.4" height="6.4" fill="#808080" stroke="#000" stroke-width="1.6"/>
<line x1="362.22" y1="188.10" x2="368.22" y2="188.10" stroke="#000" stroke-width="1.4" />
<line x1="365.22" y1="188.10" x2="365.22" y2="192.60" stroke="#000" stroke-width="1.4" />
<rect x="362.02" y="189.40" width="6.4" height="6.4" fill="#808080" stroke="#000" stroke-width="1.6"/>
<line x1="370.58" y1="175.56" x2="376.58" y2="175.56" stroke="#000" stroke-width="1.4" />
<line x1="373.58" y1="175.56" x2="373.58" y2="180.06" stroke="#000" stroke-width="1.4" />
<rect x="370.38" y="176.86" width="6.4" height="6.4" fill="#808080" stroke="#000" stroke-width="1.6"/>
<line x1="378.94" y1="163.91" x2="384.94" y2="163.91" stroke="#000" stroke-width="1.4" />
<line x1="381.94" y1="163.91" x2="381.94" y2="168.41" stroke="#000" stroke-width="1.4" />
<rect x="378.74" y="165.21" width="6.4" height="6.4" fill="#808080" stroke="#000" stroke-width="1.6"/>
<line x1="387.30" y1="152.71" x2="393.30" y2="152.71" stroke="#000" stroke-width="1.4" />
<line x1="390.30" y1="152.71" x2="390.30" y2="157.21" stroke="#000" stroke-width="1.4" />
<rect x="387.10" y="154.01" width="6.4" height="6.4" fill="#808080" stroke="#000" stroke-width="1.6"/>
<line x1="395.66" y1="143.30" x2="401.66" y2="143.30" stroke="#000" stroke-width="1.4" />
<line x1="398.66" y1="143.30" x2="398.66" y2="147.80" stroke="#000" stroke-width="1.4" />
<rect x="395.46" y="144.60" width="6.4" height="6.4" fill="#808080" stroke="#000" stroke-width="1.6"/>
<line x1="404.02" y1="139.72" x2="410.02" y2="139.72" stroke="#000" stroke-width="1.4" />
<line x1="407.02" y1="139.72" x2="407.02" y2="144.22" stroke="#000" stroke-width="1.4" />
<rect x="403.82" y="141.02" width="6.4" height="6.4" fill="#808080" stroke="#000" stroke-width="1.6"/>
<line x1="412.38" y1="137.03" x2="418.38" y2="137.03" stroke="#000" stroke-width="1.4" />
<line x1="415.38" y1="137.03" x2="415.38" y2="141.53" stroke="#000" stroke-width="1.4" />
<rect x="412.18" y="138.33" width="6.4" height="6.4" fill="#808080" stroke="#000" stroke-width="1.6"/>
<line x1="420.74" y1="135.24" x2="426.74" y2="135.24" stroke="#000" stroke-width="1.4" />
<line x1="423.74" y1="135.24" x2="423.74" y2="139.74" stroke="#000" stroke-width="1.4" />
<rect x="420.54" y="136.54" width="6.4" height="6.4" fill="#808080" stroke="#000" stroke-width="1.6"/>
<line x1="429.10" y1="135.24" x2="435.10" y2="135.24" stroke="#000" stroke-width="1.4" />
<line x1="432.10" y1="135.24" x2="432.10" y2="139.74" stroke="#000" stroke-width="1.4" />
<rect x="428.90" y="136.54" width="6.4" height="6.4" fill="#808080" stroke="#000" stroke-width="1.6"/>
<line x1="437.46" y1="136.58" x2="443.46" y2="136.58" stroke="#000" stroke-width="1.4" />
<line x1="440.46" y1="136.58" x2="440.46" y2="141.08" stroke="#000" stroke-width="1.4" />
<rect x="437.26" y="137.88" width="6.4" height="6.4" fill="#808080" stroke="#000" stroke-width="1.6"/>
<line x1="445.82" y1="138.82" x2="451.82" y2="138.82" stroke="#000" stroke-width="1.4" />
<line x1="448.82" y1="138.82" x2="448.82" y2="143.32" stroke="#000" stroke-width="1.4" />
<rect x="445.62" y="140.12" width="6.4" height="6.4" fill="#808080" stroke="#000" stroke-width="1.6"/>
<line x1="454.18" y1="141.06" x2="460.18" y2="141.06" stroke="#000" stroke-width="1.4" />
<line x1="457.18" y1="141.06" x2="457.18" y2="145.56" stroke="#000" stroke-width="1.4" />
<rect x="453.98" y="142.36" width="6.4" height="6.4" fill="#808080" stroke="#000" stroke-width="1.6"/>
<line x1="462.54" y1="143.75" x2="468.54" y2="143.75" stroke="#000" stroke-width="1.4" />
<line x1="465.54" y1="143.75" x2="465.54" y2="148.25" stroke="#000" stroke-width="1.4" />
<rect x="462.34" y="145.05" width="6.4" height="6.4" fill="#808080" stroke="#000" stroke-width="1.6"/>
<polyline points="323.42,259.80 331.78,252.18 340.14,240.09 348.50,226.65 356.86,211.86 365.22,196.63 373.58,181.58 381.94,168.86 390.30,158.10 398.66,148.70 407.02,145.11 415.38,142.42 423.74,140.63 432.10,140.63 440.46,141.98 448.82,144.22 457.18,146.46 465.54,149.14" fill="none" stroke="#0000ff" stroke-width="2.6" stroke-linejoin="round" />
<rect x="319.92" y="256.30" width="7.0" height="7.0" fill="#0000ff" stroke="#000" stroke-width="1.7"/>
<rect x="328.28" y="248.68" width="7.0" height="7.0" fill="#0000ff" stroke="#000" stroke-width="1.7"/>
<rect x="336.64" y="236.59" width="7.0" height="7.0" fill="#0000ff" stroke="#000" stroke-width="1.7"/>
<rect x="345.00" y="223.15" width="7.0" height="7.0" fill="#0000ff" stroke="#000" stroke-width="1.7"/>
<rect x="353.36" y="208.36" width="7.0" height="7.0" fill="#0000ff" stroke="#000" stroke-width="1.7"/>
<rect x="361.72" y="193.13" width="7.0" height="7.0" fill="#0000ff" stroke="#000" stroke-width="1.7"/>
<rect x="370.08" y="178.08" width="7.0" height="7.0" fill="#0000ff" stroke="#000" stroke-width="1.7"/>
<line x1="377.14" y1="173.16" x2="386.74" y2="173.16" stroke="#000" stroke-width="1.8" />
<line x1="381.94" y1="173.16" x2="381.94" y2="168.86" stroke="#000" stroke-width="1.4" />
<line x1="377.14" y1="164.56" x2="386.74" y2="164.56" stroke="#000" stroke-width="1.8" />
<line x1="381.94" y1="164.56" x2="381.94" y2="168.86" stroke="#000" stroke-width="1.4" />
<rect x="378.44" y="165.36" width="7.0" height="7.0" fill="#0000ff" stroke="#000" stroke-width="1.7"/>
<line x1="385.50" y1="162.40" x2="395.10" y2="162.40" stroke="#000" stroke-width="1.8" />
<line x1="390.30" y1="162.40" x2="390.30" y2="158.10" stroke="#000" stroke-width="1.4" />
<line x1="385.50" y1="153.80" x2="395.10" y2="153.80" stroke="#000" stroke-width="1.8" />
<line x1="390.30" y1="153.80" x2="390.30" y2="158.10" stroke="#000" stroke-width="1.4" />
<rect x="386.80" y="154.60" width="7.0" height="7.0" fill="#0000ff" stroke="#000" stroke-width="1.7"/>
<line x1="393.86" y1="153.00" x2="403.46" y2="153.00" stroke="#000" stroke-width="1.8" />
<line x1="398.66" y1="153.00" x2="398.66" y2="148.70" stroke="#000" stroke-width="1.4" />
<line x1="393.86" y1="144.40" x2="403.46" y2="144.40" stroke="#000" stroke-width="1.8" />
<line x1="398.66" y1="144.40" x2="398.66" y2="148.70" stroke="#000" stroke-width="1.4" />
<rect x="395.16" y="145.20" width="7.0" height="7.0" fill="#0000ff" stroke="#000" stroke-width="1.7"/>
<line x1="402.22" y1="149.41" x2="411.82" y2="149.41" stroke="#000" stroke-width="1.8" />
<line x1="407.02" y1="149.41" x2="407.02" y2="145.11" stroke="#000" stroke-width="1.4" />
<line x1="402.22" y1="140.81" x2="411.82" y2="140.81" stroke="#000" stroke-width="1.8" />
<line x1="407.02" y1="140.81" x2="407.02" y2="145.11" stroke="#000" stroke-width="1.4" />
<rect x="403.52" y="141.61" width="7.0" height="7.0" fill="#0000ff" stroke="#000" stroke-width="1.7"/>
<line x1="410.58" y1="146.72" x2="420.18" y2="146.72" stroke="#000" stroke-width="1.8" />
<line x1="415.38" y1="146.72" x2="415.38" y2="142.42" stroke="#000" stroke-width="1.4" />
<line x1="410.58" y1="138.12" x2="420.18" y2="138.12" stroke="#000" stroke-width="1.8" />
<line x1="415.38" y1="138.12" x2="415.38" y2="142.42" stroke="#000" stroke-width="1.4" />
<rect x="411.88" y="138.92" width="7.0" height="7.0" fill="#0000ff" stroke="#000" stroke-width="1.7"/>
<line x1="418.94" y1="144.93" x2="428.54" y2="144.93" stroke="#000" stroke-width="1.8" />
<line x1="423.74" y1="144.93" x2="423.74" y2="140.63" stroke="#000" stroke-width="1.4" />
<line x1="418.94" y1="136.33" x2="428.54" y2="136.33" stroke="#000" stroke-width="1.8" />
<line x1="423.74" y1="136.33" x2="423.74" y2="140.63" stroke="#000" stroke-width="1.4" />
<rect x="420.24" y="137.13" width="7.0" height="7.0" fill="#0000ff" stroke="#000" stroke-width="1.7"/>
<line x1="427.30" y1="144.93" x2="436.90" y2="144.93" stroke="#000" stroke-width="1.8" />
<line x1="432.10" y1="144.93" x2="432.10" y2="140.63" stroke="#000" stroke-width="1.4" />
<line x1="427.30" y1="136.33" x2="436.90" y2="136.33" stroke="#000" stroke-width="1.8" />
<line x1="432.10" y1="136.33" x2="432.10" y2="140.63" stroke="#000" stroke-width="1.4" />
<rect x="428.60" y="137.13" width="7.0" height="7.0" fill="#0000ff" stroke="#000" stroke-width="1.7"/>
<line x1="435.66" y1="146.28" x2="445.26" y2="146.28" stroke="#000" stroke-width="1.8" />
<line x1="440.46" y1="146.28" x2="440.46" y2="141.98" stroke="#000" stroke-width="1.4" />
<line x1="435.66" y1="137.68" x2="445.26" y2="137.68" stroke="#000" stroke-width="1.8" />
<line x1="440.46" y1="137.68" x2="440.46" y2="141.98" stroke="#000" stroke-width="1.4" />
<rect x="436.96" y="138.48" width="7.0" height="7.0" fill="#0000ff" stroke="#000" stroke-width="1.7"/>
<line x1="444.02" y1="148.52" x2="453.62" y2="148.52" stroke="#000" stroke-width="1.8" />
<line x1="448.82" y1="148.52" x2="448.82" y2="144.22" stroke="#000" stroke-width="1.4" />
<line x1="444.02" y1="139.92" x2="453.62" y2="139.92" stroke="#000" stroke-width="1.8" />
<line x1="448.82" y1="139.92" x2="448.82" y2="144.22" stroke="#000" stroke-width="1.4" />
<rect x="445.32" y="140.72" width="7.0" height="7.0" fill="#0000ff" stroke="#000" stroke-width="1.7"/>
<line x1="452.38" y1="150.76" x2="461.98" y2="150.76" stroke="#000" stroke-width="1.8" />
<line x1="457.18" y1="150.76" x2="457.18" y2="146.46" stroke="#000" stroke-width="1.4" />
<line x1="452.38" y1="142.16" x2="461.98" y2="142.16" stroke="#000" stroke-width="1.8" />
<line x1="457.18" y1="142.16" x2="457.18" y2="146.46" stroke="#000" stroke-width="1.4" />
<rect x="453.68" y="142.96" width="7.0" height="7.0" fill="#0000ff" stroke="#000" stroke-width="1.7"/>
<line x1="460.74" y1="153.44" x2="470.34" y2="153.44" stroke="#000" stroke-width="1.8" />
<line x1="465.54" y1="153.44" x2="465.54" y2="149.14" stroke="#000" stroke-width="1.4" />
<line x1="460.74" y1="144.84" x2="470.34" y2="144.84" stroke="#000" stroke-width="1.8" />
<line x1="465.54" y1="144.84" x2="465.54" y2="149.14" stroke="#000" stroke-width="1.4" />
<rect x="462.04" y="145.64" width="7.0" height="7.0" fill="#0000ff" stroke="#000" stroke-width="1.7"/>
<text x="295.50" y="320.40" font-size="17.5" text-anchor="start" >(d)</text>
<line x1="317.30" y1="340.80" x2="317.30" y2="479.80" stroke="#000" stroke-width="1.9" />
<line x1="311.90" y1="340.80" x2="317.30" y2="340.80" stroke="#000" stroke-width="1.9" />
<line x1="314.20" y1="374.30" x2="317.30" y2="374.30" stroke="#000" stroke-width="1.9" />
<line x1="311.90" y1="407.80" x2="317.30" y2="407.80" stroke="#000" stroke-width="1.9" />
<line x1="314.20" y1="441.30" x2="317.30" y2="441.30" stroke="#000" stroke-width="1.9" />
<line x1="311.90" y1="474.80" x2="317.30" y2="474.80" stroke="#000" stroke-width="1.9" />
<line x1="311.90" y1="475.20" x2="474.80" y2="475.20" stroke="#000" stroke-width="1.9" />
<line x1="356.50" y1="475.40" x2="356.50" y2="478.50" stroke="#000" stroke-width="1.9" />
<line x1="395.50" y1="475.40" x2="395.50" y2="480.30" stroke="#000" stroke-width="1.9" />
<line x1="434.50" y1="475.40" x2="434.50" y2="478.50" stroke="#000" stroke-width="1.9" />
<line x1="473.50" y1="475.40" x2="473.50" y2="480.30" stroke="#000" stroke-width="1.9" />
<text x="305.30" y="345.90" font-size="14" text-anchor="end" >1.0</text>
<text x="305.30" y="412.90" font-size="14" text-anchor="end" >0.5</text>
<text x="305.30" y="479.90" font-size="14" text-anchor="end" >0</text>
<text x="317.50" y="499.80" font-size="14" text-anchor="middle" >-150</text>
<text x="395.50" y="499.80" font-size="14" text-anchor="middle" >-50</text>
<text x="473.50" y="499.80" font-size="14" text-anchor="middle" >50</text>
<text x="369.5" y="519" font-size="14">V<tspan font-size="9.5" dy="4">C</tspan><tspan dy="-4"> (mV)</tspan></text>
<text transform="translate(272.7,424.9) rotate(-90)" font-size="13">I/I<tspan font-size="9.8" dy="4">(max)</tspan></text>
<line x1="340.90" y1="342.14" x2="340.90" y2="347.64" stroke="#000" stroke-width="1.4" />
<line x1="335.90" y1="347.64" x2="345.90" y2="347.64" stroke="#000" stroke-width="1.7" />
<line x1="348.70" y1="346.70" x2="348.70" y2="352.20" stroke="#000" stroke-width="1.4" />
<line x1="343.70" y1="352.20" x2="353.70" y2="352.20" stroke="#000" stroke-width="1.7" />
<line x1="356.50" y1="350.85" x2="356.50" y2="356.35" stroke="#000" stroke-width="1.4" />
<line x1="351.50" y1="356.35" x2="361.50" y2="356.35" stroke="#000" stroke-width="1.7" />
<line x1="364.30" y1="358.49" x2="364.30" y2="363.99" stroke="#000" stroke-width="1.4" />
<line x1="359.30" y1="363.99" x2="369.30" y2="363.99" stroke="#000" stroke-width="1.7" />
<line x1="372.10" y1="366.93" x2="372.10" y2="372.43" stroke="#000" stroke-width="1.4" />
<line x1="367.10" y1="372.43" x2="377.10" y2="372.43" stroke="#000" stroke-width="1.7" />
<line x1="379.90" y1="370.38" x2="379.90" y2="384.38" stroke="#000" stroke-width="1.4" />
<line x1="374.90" y1="370.38" x2="384.90" y2="370.38" stroke="#000" stroke-width="1.7" />
<line x1="374.90" y1="384.38" x2="384.90" y2="384.38" stroke="#000" stroke-width="1.7" />
<line x1="387.70" y1="380.70" x2="387.70" y2="394.70" stroke="#000" stroke-width="1.4" />
<line x1="382.70" y1="380.70" x2="392.70" y2="380.70" stroke="#000" stroke-width="1.7" />
<line x1="382.70" y1="394.70" x2="392.70" y2="394.70" stroke="#000" stroke-width="1.7" />
<line x1="395.50" y1="394.90" x2="395.50" y2="408.90" stroke="#000" stroke-width="1.4" />
<line x1="390.50" y1="394.90" x2="400.50" y2="394.90" stroke="#000" stroke-width="1.7" />
<line x1="390.50" y1="408.90" x2="400.50" y2="408.90" stroke="#000" stroke-width="1.7" />
<line x1="403.30" y1="408.84" x2="403.30" y2="422.84" stroke="#000" stroke-width="1.4" />
<line x1="398.30" y1="408.84" x2="408.30" y2="408.84" stroke="#000" stroke-width="1.7" />
<line x1="398.30" y1="422.84" x2="408.30" y2="422.84" stroke="#000" stroke-width="1.7" />
<line x1="411.10" y1="422.24" x2="411.10" y2="436.24" stroke="#000" stroke-width="1.4" />
<line x1="406.10" y1="422.24" x2="416.10" y2="422.24" stroke="#000" stroke-width="1.7" />
<line x1="406.10" y1="436.24" x2="416.10" y2="436.24" stroke="#000" stroke-width="1.7" />
<line x1="418.90" y1="434.30" x2="418.90" y2="448.30" stroke="#000" stroke-width="1.4" />
<line x1="413.90" y1="434.30" x2="423.90" y2="434.30" stroke="#000" stroke-width="1.7" />
<line x1="413.90" y1="448.30" x2="423.90" y2="448.30" stroke="#000" stroke-width="1.7" />
<line x1="426.70" y1="444.35" x2="426.70" y2="458.35" stroke="#000" stroke-width="1.4" />
<line x1="421.70" y1="444.35" x2="431.70" y2="444.35" stroke="#000" stroke-width="1.7" />
<line x1="421.70" y1="458.35" x2="431.70" y2="458.35" stroke="#000" stroke-width="1.7" />
<line x1="434.50" y1="452.12" x2="434.50" y2="466.12" stroke="#000" stroke-width="1.4" />
<line x1="429.50" y1="452.12" x2="439.50" y2="452.12" stroke="#000" stroke-width="1.7" />
<line x1="429.50" y1="466.12" x2="439.50" y2="466.12" stroke="#000" stroke-width="1.7" />
<line x1="442.30" y1="458.15" x2="442.30" y2="472.15" stroke="#000" stroke-width="1.4" />
<line x1="437.30" y1="458.15" x2="447.30" y2="458.15" stroke="#000" stroke-width="1.7" />
<line x1="437.30" y1="472.15" x2="447.30" y2="472.15" stroke="#000" stroke-width="1.7" />
<line x1="450.10" y1="463.24" x2="450.10" y2="477.24" stroke="#000" stroke-width="1.4" />
<line x1="445.10" y1="463.24" x2="455.10" y2="463.24" stroke="#000" stroke-width="1.7" />
<line x1="445.10" y1="477.24" x2="455.10" y2="477.24" stroke="#000" stroke-width="1.7" />
<line x1="325.30" y1="353.13" x2="325.30" y2="360.13" stroke="#000" stroke-width="1.4" />
<line x1="319.80" y1="360.13" x2="330.80" y2="360.13" stroke="#000" stroke-width="1.6" />
<circle cx="325.30" cy="343.48" r="3.4" fill="#808080" stroke="#000" stroke-width="1.8"/>
<circle cx="333.10" cy="340.80" r="3.4" fill="#808080" stroke="#000" stroke-width="1.8"/>
<circle cx="340.90" cy="342.14" r="3.4" fill="#808080" stroke="#000" stroke-width="1.8"/>
<circle cx="348.70" cy="346.70" r="3.4" fill="#808080" stroke="#000" stroke-width="1.8"/>
<circle cx="356.50" cy="350.85" r="3.4" fill="#808080" stroke="#000" stroke-width="1.8"/>
<circle cx="364.30" cy="358.49" r="3.4" fill="#808080" stroke="#000" stroke-width="1.8"/>
<circle cx="372.10" cy="366.93" r="3.4" fill="#808080" stroke="#000" stroke-width="1.8"/>
<circle cx="379.90" cy="377.38" r="3.4" fill="#808080" stroke="#000" stroke-width="1.8"/>
<circle cx="387.70" cy="387.70" r="3.4" fill="#808080" stroke="#000" stroke-width="1.8"/>
<circle cx="395.50" cy="401.90" r="3.4" fill="#808080" stroke="#000" stroke-width="1.8"/>
<circle cx="403.30" cy="415.84" r="3.4" fill="#808080" stroke="#000" stroke-width="1.8"/>
<circle cx="411.10" cy="429.24" r="3.4" fill="#808080" stroke="#000" stroke-width="1.8"/>
<circle cx="418.90" cy="441.30" r="3.4" fill="#808080" stroke="#000" stroke-width="1.8"/>
<circle cx="426.70" cy="451.35" r="3.4" fill="#808080" stroke="#000" stroke-width="1.8"/>
<circle cx="434.50" cy="459.12" r="3.4" fill="#808080" stroke="#000" stroke-width="1.8"/>
<circle cx="442.30" cy="465.15" r="3.4" fill="#808080" stroke="#000" stroke-width="1.8"/>
<circle cx="450.10" cy="470.24" r="3.4" fill="#808080" stroke="#000" stroke-width="1.8"/>
<circle cx="457.90" cy="474.80" r="3.4" fill="#808080" stroke="#000" stroke-width="1.8"/>
<circle cx="325.30" cy="353.13" r="3.4" fill="#0000ff" stroke="#000" stroke-width="1.8"/>
<circle cx="333.10" cy="345.62" r="3.4" fill="#0000ff" stroke="#000" stroke-width="1.8"/>
<circle cx="340.90" cy="342.14" r="3.4" fill="#0000ff" stroke="#000" stroke-width="1.8"/>
<circle cx="348.70" cy="342.14" r="3.4" fill="#0000ff" stroke="#000" stroke-width="1.8"/>
<circle cx="356.50" cy="346.16" r="3.4" fill="#0000ff" stroke="#000" stroke-width="1.8"/>
<circle cx="364.30" cy="352.86" r="3.4" fill="#0000ff" stroke="#000" stroke-width="1.8"/>
<circle cx="372.10" cy="364.25" r="3.4" fill="#0000ff" stroke="#000" stroke-width="1.8"/>
<circle cx="379.90" cy="379.66" r="3.4" fill="#0000ff" stroke="#000" stroke-width="1.8"/>
<circle cx="387.70" cy="397.08" r="3.4" fill="#0000ff" stroke="#000" stroke-width="1.8"/>
<circle cx="395.50" cy="419.06" r="3.4" fill="#0000ff" stroke="#000" stroke-width="1.8"/>
<circle cx="403.30" cy="429.51" r="3.4" fill="#0000ff" stroke="#000" stroke-width="1.8"/>
<circle cx="411.10" cy="441.30" r="3.4" fill="#0000ff" stroke="#000" stroke-width="1.8"/>
<circle cx="418.90" cy="450.68" r="3.4" fill="#0000ff" stroke="#000" stroke-width="1.8"/>
<circle cx="426.70" cy="457.38" r="3.4" fill="#0000ff" stroke="#000" stroke-width="1.8"/>
<circle cx="434.50" cy="463.41" r="3.4" fill="#0000ff" stroke="#000" stroke-width="1.8"/>
<circle cx="442.30" cy="468.50" r="3.4" fill="#0000ff" stroke="#000" stroke-width="1.8"/>
<circle cx="450.10" cy="472.12" r="3.4" fill="#0000ff" stroke="#000" stroke-width="1.8"/>
<circle cx="457.90" cy="474.80" r="3.4" fill="#0000ff" stroke="#000" stroke-width="1.8"/>
<path d="M325.30,340.41 L325.50,340.50 L325.69,340.59 L325.88,340.68 L326.08,340.77 L326.27,340.86 L326.47,340.95 L326.67,341.05 L326.86,341.14 L327.06,341.24 L327.25,341.33 L327.44,341.43 L327.64,341.52 L327.83,341.62 L328.03,341.71 L328.23,341.81 L328.42,341.91 L328.62,342.01 L328.81,342.11 L329.00,342.21 L329.20,342.31 L329.39,342.41 L329.59,342.51 L329.79,342.61 L329.98,342.71 L330.18,342.82 L330.37,342.92 L330.56,343.02 L330.76,343.13 L330.95,343.23 L331.15,343.34 L331.35,343.45 L331.54,343.55 L331.74,343.66 L331.93,343.77 L332.12,343.88 L332.32,343.99 L332.51,344.10 L332.71,344.21 L332.90,344.32 L333.10,344.43 L333.30,344.55 L333.49,344.66 L333.69,344.77 L333.88,344.89 L334.07,345.00 L334.27,345.12 L334.46,345.23 L334.66,345.35 L334.86,345.47 L335.05,345.59 L335.25,345.70 L335.44,345.82 L335.63,345.94 L335.83,346.06 L336.02,346.19 L336.22,346.31 L336.42,346.43 L336.61,346.55 L336.81,346.68 L337.00,346.80 L337.19,346.93 L337.39,347.05 L337.58,347.18 L337.78,347.31 L337.98,347.43 L338.17,347.56 L338.37,347.69 L338.56,347.82 L338.75,347.95 L338.95,348.08 L339.14,348.21 L339.34,348.35 L339.54,348.48 L339.73,348.61 L339.93,348.75 L340.12,348.88 L340.31,349.02 L340.51,349.15 L340.70,349.29 L340.90,349.43 L341.10,349.57 L341.29,349.71 L341.49,349.85 L341.68,349.99 L341.88,350.13 L342.07,350.27 L342.26,350.41 L342.46,350.56 L342.65,350.70 L342.85,350.84 L343.05,350.99 L343.24,351.14 L343.44,351.28 L343.63,351.43 L343.82,351.58 L344.02,351.73 L344.21,351.88 L344.41,352.03 L344.61,352.18 L344.80,352.33 L345.00,352.48 L345.19,352.64 L345.38,352.79 L345.58,352.95 L345.77,353.10 L345.97,353.26 L346.17,353.41 L346.36,353.57 L346.56,353.73 L346.75,353.89 L346.94,354.05 L347.14,354.21 L347.33,354.37 L347.53,354.53 L347.73,354.70 L347.92,354.86 L348.12,355.02 L348.31,355.19 L348.50,355.36 L348.70,355.52 L348.89,355.69 L349.09,355.86 L349.29,356.03 L349.48,356.20 L349.68,356.37 L349.87,356.54 L350.06,356.71 L350.26,356.88 L350.45,357.05 L350.65,357.23 L350.85,357.40 L351.04,357.58 L351.24,357.75 L351.43,357.93 L351.62,358.11 L351.82,358.29 L352.01,358.47 L352.21,358.65 L352.40,358.83 L352.60,359.01 L352.80,359.19 L352.99,359.37 L353.19,359.56 L353.38,359.74 L353.57,359.93 L353.77,360.11 L353.97,360.30 L354.16,360.49 L354.36,360.68 L354.55,360.87 L354.75,361.05 L354.94,361.25 L355.13,361.44 L355.33,361.63 L355.52,361.82 L355.72,362.02 L355.92,362.21 L356.11,362.40 L356.31,362.60 L356.50,362.80 L356.69,362.99 L356.89,363.19 L357.08,363.39 L357.28,363.59 L357.48,363.79 L357.67,363.99 L357.87,364.19 L358.06,364.40 L358.25,364.60 L358.45,364.80 L358.64,365.01 L358.84,365.21 L359.04,365.42 L359.23,365.63 L359.43,365.84 L359.62,366.04 L359.81,366.25 L360.01,366.46 L360.20,366.67 L360.40,366.88 L360.60,367.10 L360.79,367.31 L360.99,367.52 L361.18,367.74 L361.38,367.95 L361.57,368.17 L361.76,368.39 L361.96,368.60 L362.15,368.82 L362.35,369.04 L362.55,369.26 L362.74,369.48 L362.94,369.70 L363.13,369.92 L363.32,370.14 L363.52,370.37 L363.72,370.59 L363.91,370.81 L364.11,371.04 L364.30,371.27 L364.50,371.49 L364.69,371.72 L364.88,371.95 L365.08,372.18 L365.27,372.40 L365.47,372.63 L365.67,372.86 L365.86,373.10 L366.06,373.33 L366.25,373.56 L366.44,373.79 L366.64,374.03 L366.83,374.26 L367.03,374.50 L367.23,374.73 L367.42,374.97 L367.62,375.21 L367.81,375.45 L368.00,375.68 L368.20,375.92 L368.39,376.16 L368.59,376.40 L368.79,376.64 L368.98,376.89 L369.18,377.13 L369.37,377.37 L369.56,377.61 L369.76,377.86 L369.95,378.10 L370.15,378.35 L370.35,378.60 L370.54,378.84 L370.74,379.09 L370.93,379.34 L371.12,379.59 L371.32,379.83 L371.51,380.08 L371.71,380.33 L371.90,380.58 L372.10,380.84 L372.30,381.09 L372.49,381.34 L372.69,381.59 L372.88,381.85 L373.07,382.10 L373.27,382.36 L373.47,382.61 L373.66,382.87 L373.86,383.12 L374.05,383.38 L374.25,383.64 L374.44,383.89 L374.63,384.15 L374.83,384.41 L375.02,384.67 L375.22,384.93 L375.42,385.19 L375.61,385.45 L375.81,385.71 L376.00,385.97 L376.19,386.24 L376.39,386.50 L376.58,386.76 L376.78,387.03 L376.98,387.29 L377.17,387.55 L377.37,387.82 L377.56,388.08 L377.75,388.35 L377.95,388.62 L378.14,388.88 L378.34,389.15 L378.54,389.42 L378.73,389.69 L378.93,389.95 L379.12,390.22 L379.31,390.49 L379.51,390.76 L379.70,391.03 L379.90,391.30 L380.10,391.57 L380.29,391.84 L380.49,392.11 L380.68,392.38 L380.88,392.66 L381.07,392.93 L381.26,393.20 L381.46,393.47 L381.65,393.75 L381.85,394.02 L382.05,394.29 L382.24,394.57 L382.44,394.84 L382.63,395.12 L382.82,395.39 L383.02,395.67 L383.22,395.94 L383.41,396.22 L383.61,396.49 L383.80,396.77 L384.00,397.05 L384.19,397.32 L384.38,397.60 L384.58,397.88 L384.77,398.15 L384.97,398.43 L385.17,398.71 L385.36,398.99 L385.56,399.26 L385.75,399.54 L385.94,399.82 L386.14,400.10 L386.34,400.38 L386.53,400.66 L386.73,400.94 L386.92,401.21 L387.12,401.49 L387.31,401.77 L387.50,402.05 L387.70,402.33 L387.89,402.61 L388.09,402.89 L388.28,403.17 L388.48,403.45 L388.68,403.73 L388.87,404.01 L389.06,404.29 L389.26,404.57 L389.45,404.85 L389.65,405.13 L389.85,405.41 L390.04,405.69 L390.24,405.97 L390.43,406.25 L390.62,406.53 L390.82,406.81 L391.01,407.10 L391.21,407.38 L391.40,407.66 L391.60,407.94 L391.80,408.22 L391.99,408.50 L392.19,408.78 L392.38,409.06 L392.57,409.34 L392.77,409.62 L392.97,409.90 L393.16,410.18 L393.36,410.46 L393.55,410.74 L393.75,411.02 L393.94,411.30 L394.13,411.58 L394.33,411.85 L394.52,412.13 L394.72,412.41 L394.92,412.69 L395.11,412.97 L395.31,413.25 L395.50,413.53 L395.69,413.81 L395.89,414.08 L396.09,414.36 L396.28,414.64 L396.48,414.92 L396.67,415.19 L396.87,415.47 L397.06,415.75 L397.25,416.02 L397.45,416.30 L397.64,416.58 L397.84,416.85 L398.03,417.13 L398.23,417.40 L398.43,417.68 L398.62,417.95 L398.81,418.23 L399.01,418.50 L399.20,418.78 L399.40,419.05 L399.60,419.32 L399.79,419.60 L399.99,419.87 L400.18,420.14 L400.38,420.41 L400.57,420.69 L400.76,420.96 L400.96,421.23 L401.15,421.50 L401.35,421.77 L401.55,422.04 L401.74,422.31 L401.94,422.58 L402.13,422.85 L402.32,423.12 L402.52,423.39 L402.72,423.65 L402.91,423.92 L403.11,424.19 L403.30,424.46 L403.50,424.72 L403.69,424.99 L403.88,425.25 L404.08,425.52 L404.27,425.78 L404.47,426.05 L404.67,426.31 L404.86,426.57 L405.06,426.84 L405.25,427.10 L405.44,427.36 L405.64,427.62 L405.84,427.88 L406.03,428.14 L406.23,428.40 L406.42,428.66 L406.62,428.92 L406.81,429.18 L407.00,429.44 L407.20,429.69 L407.39,429.95 L407.59,430.21 L407.78,430.46 L407.98,430.72 L408.18,430.97 L408.37,431.23 L408.56,431.48 L408.76,431.73 L408.95,431.99 L409.15,432.24 L409.35,432.49 L409.54,432.74 L409.74,432.99 L409.93,433.24 L410.12,433.49 L410.32,433.74 L410.51,433.99 L410.71,434.23 L410.90,434.48 L411.10,434.73 L411.30,434.97 L411.49,435.22 L411.69,435.46 L411.88,435.71 L412.07,435.95 L412.27,436.19 L412.47,436.43 L412.66,436.67 L412.86,436.92 L413.05,437.16 L413.25,437.39 L413.44,437.63 L413.63,437.87 L413.83,438.11 L414.02,438.35 L414.22,438.58 L414.42,438.82 L414.61,439.05 L414.81,439.29 L415.00,439.52 L415.19,439.75 L415.39,439.98 L415.59,440.22 L415.78,440.45 L415.98,440.68 L416.17,440.91 L416.37,441.13 L416.56,441.36 L416.75,441.59 L416.95,441.82 L417.14,442.04 L417.34,442.27 L417.53,442.49 L417.73,442.72 L417.93,442.94 L418.12,443.16 L418.31,443.38 L418.51,443.60 L418.70,443.82 L418.90,444.04 L419.10,444.26 L419.29,444.48 L419.49,444.70 L419.68,444.92 L419.88,445.13 L420.07,445.35 L420.26,445.56 L420.46,445.77 L420.65,445.99 L420.85,446.20 L421.05,446.41 L421.24,446.62 L421.44,446.83 L421.63,447.04 L421.82,447.25 L422.02,447.46 L422.22,447.67 L422.41,447.87 L422.61,448.08 L422.80,448.28 L423.00,448.49 L423.19,448.69 L423.38,448.89 L423.58,449.10 L423.77,449.30 L423.97,449.50 L424.17,449.70 L424.36,449.90 L424.56,450.09 L424.75,450.29 L424.94,450.49 L425.14,450.68 L425.34,450.88 L425.53,451.07 L425.73,451.27 L425.92,451.46 L426.12,451.65 L426.31,451.84 L426.50,452.04 L426.70,452.23 L426.89,452.41 L427.09,452.60 L427.29,452.79 L427.48,452.98 L427.68,453.16 L427.87,453.35 L428.06,453.53 L428.26,453.72 L428.45,453.90 L428.65,454.08 L428.85,454.26 L429.04,454.45 L429.24,454.63 L429.43,454.81 L429.62,454.98 L429.82,455.16 L430.01,455.34 L430.21,455.52 L430.40,455.69 L430.60,455.87 L430.80,456.04 L430.99,456.21 L431.19,456.39 L431.38,456.56 L431.57,456.73 L431.77,456.90 L431.97,457.07 L432.16,457.24 L432.36,457.41 L432.55,457.57 L432.75,457.74 L432.94,457.91 L433.13,458.07 L433.33,458.24 L433.52,458.40 L433.72,458.56 L433.92,458.72 L434.11,458.89 L434.31,459.05 L434.50,459.21 L434.69,459.37 L434.89,459.53 L435.09,459.68 L435.28,459.84 L435.48,460.00 L435.67,460.15 L435.87,460.31 L436.06,460.46 L436.25,460.61 L436.45,460.77 L436.64,460.92 L436.84,461.07 L437.04,461.22 L437.23,461.37 L437.43,461.52 L437.62,461.67 L437.81,461.82 L438.01,461.96 L438.20,462.11 L438.40,462.26 L438.60,462.40 L438.79,462.55 L438.99,462.69 L439.18,462.83 L439.38,462.97 L439.57,463.12 L439.76,463.26 L439.96,463.40 L440.15,463.54 L440.35,463.67 L440.55,463.81 L440.74,463.95 L440.94,464.09 L441.13,464.22 L441.32,464.36 L441.52,464.49 L441.72,464.63 L441.91,464.76 L442.11,464.89 L442.30,465.02 L442.50,465.15 L442.69,465.28 L442.88,465.41 L443.08,465.54 L443.27,465.67 L443.47,465.80 L443.67,465.93 L443.86,466.05 L444.06,466.18 L444.25,466.30 L444.44,466.43 L444.64,466.55 L444.84,466.68 L445.03,466.80 L445.23,466.92 L445.42,467.04 L445.62,467.16 L445.81,467.28 L446.00,467.40 L446.20,467.52 L446.39,467.64 L446.59,467.76 L446.78,467.87 L446.98,467.99 L447.18,468.11 L447.37,468.22 L447.56,468.34 L447.76,468.45 L447.96,468.56 L448.15,468.68 L448.35,468.79 L448.54,468.90 L448.74,469.01 L448.93,469.12 L449.12,469.23 L449.32,469.34 L449.51,469.45 L449.71,469.56 L449.90,469.66 L450.10,469.77 L450.30,469.88 L450.49,469.98 L450.69,470.09 L450.88,470.19 L451.08,470.29 L451.27,470.40 L451.47,470.50 L451.66,470.60 L451.86,470.70 L452.05,470.80 L452.25,470.90 L452.44,471.00 L452.63,471.10 L452.83,471.20 L453.02,471.30 L453.22,471.40 L453.41,471.49 L453.61,471.59 L453.81,471.69 L454.00,471.78 L454.19,471.88 L454.39,471.97 L454.59,472.07 L454.78,472.16 L454.98,472.25 L455.17,472.34 L455.37,472.44 L455.56,472.53 L455.75,472.62 L455.95,472.71 L456.14,472.80 L456.34,472.89 L456.53,472.97 L456.73,473.06 L456.93,473.15 L457.12,473.24 L457.31,473.32 L457.51,473.41 L457.71,473.49 L457.90,473.58" fill="none" stroke="#808080" stroke-width="2.1"/>
<path d="M325.30,341.13 L325.50,341.22 L325.69,341.30 L325.88,341.39 L326.08,341.47 L326.27,341.56 L326.47,341.65 L326.67,341.74 L326.86,341.83 L327.06,341.92 L327.25,342.01 L327.44,342.10 L327.64,342.19 L327.83,342.28 L328.03,342.38 L328.23,342.47 L328.42,342.57 L328.62,342.66 L328.81,342.76 L329.00,342.86 L329.20,342.96 L329.39,343.06 L329.59,343.16 L329.79,343.26 L329.98,343.36 L330.18,343.46 L330.37,343.57 L330.56,343.67 L330.76,343.77 L330.95,343.88 L331.15,343.99 L331.35,344.09 L331.54,344.20 L331.74,344.31 L331.93,344.42 L332.12,344.53 L332.32,344.64 L332.51,344.76 L332.71,344.87 L332.90,344.98 L333.10,345.10 L333.30,345.21 L333.49,345.33 L333.69,345.45 L333.88,345.57 L334.07,345.69 L334.27,345.81 L334.46,345.93 L334.66,346.05 L334.86,346.17 L335.05,346.30 L335.25,346.42 L335.44,346.55 L335.63,346.68 L335.83,346.80 L336.02,346.93 L336.22,347.06 L336.42,347.19 L336.61,347.33 L336.81,347.46 L337.00,347.59 L337.19,347.73 L337.39,347.86 L337.58,348.00 L337.78,348.14 L337.98,348.27 L338.17,348.41 L338.37,348.55 L338.56,348.70 L338.75,348.84 L338.95,348.98 L339.14,349.13 L339.34,349.27 L339.54,349.42 L339.73,349.57 L339.93,349.72 L340.12,349.87 L340.31,350.02 L340.51,350.17 L340.70,350.32 L340.90,350.48 L341.10,350.63 L341.29,350.79 L341.49,350.95 L341.68,351.10 L341.88,351.26 L342.07,351.42 L342.26,351.59 L342.46,351.75 L342.65,351.91 L342.85,352.08 L343.05,352.24 L343.24,352.41 L343.44,352.58 L343.63,352.75 L343.82,352.92 L344.02,353.09 L344.21,353.27 L344.41,353.44 L344.61,353.61 L344.80,353.79 L345.00,353.97 L345.19,354.15 L345.38,354.33 L345.58,354.51 L345.77,354.69 L345.97,354.87 L346.17,355.06 L346.36,355.24 L346.56,355.43 L346.75,355.62 L346.94,355.81 L347.14,356.00 L347.33,356.19 L347.53,356.38 L347.73,356.58 L347.92,356.77 L348.12,356.97 L348.31,357.17 L348.50,357.37 L348.70,357.57 L348.89,357.77 L349.09,357.97 L349.29,358.17 L349.48,358.38 L349.68,358.58 L349.87,358.79 L350.06,359.00 L350.26,359.21 L350.45,359.42 L350.65,359.63 L350.85,359.85 L351.04,360.06 L351.24,360.28 L351.43,360.49 L351.62,360.71 L351.82,360.93 L352.01,361.15 L352.21,361.38 L352.40,361.60 L352.60,361.82 L352.80,362.05 L352.99,362.28 L353.19,362.50 L353.38,362.73 L353.57,362.96 L353.77,363.20 L353.97,363.43 L354.16,363.66 L354.36,363.90 L354.55,364.14 L354.75,364.37 L354.94,364.61 L355.13,364.85 L355.33,365.10 L355.52,365.34 L355.72,365.58 L355.92,365.83 L356.11,366.08 L356.31,366.32 L356.50,366.57 L356.69,366.82 L356.89,367.07 L357.08,367.33 L357.28,367.58 L357.48,367.84 L357.67,368.09 L357.87,368.35 L358.06,368.61 L358.25,368.87 L358.45,369.13 L358.64,369.39 L358.84,369.66 L359.04,369.92 L359.23,370.19 L359.43,370.45 L359.62,370.72 L359.81,370.99 L360.01,371.26 L360.20,371.53 L360.40,371.81 L360.60,372.08 L360.79,372.35 L360.99,372.63 L361.18,372.91 L361.38,373.19 L361.57,373.47 L361.76,373.75 L361.96,374.03 L362.15,374.31 L362.35,374.60 L362.55,374.88 L362.74,375.17 L362.94,375.45 L363.13,375.74 L363.32,376.03 L363.52,376.32 L363.72,376.61 L363.91,376.91 L364.11,377.20 L364.30,377.49 L364.50,377.79 L364.69,378.09 L364.88,378.38 L365.08,378.68 L365.27,378.98 L365.47,379.28 L365.67,379.59 L365.86,379.89 L366.06,380.19 L366.25,380.50 L366.44,380.80 L366.64,381.11 L366.83,381.41 L367.03,381.72 L367.23,382.03 L367.42,382.34 L367.62,382.65 L367.81,382.96 L368.00,383.28 L368.20,383.59 L368.39,383.90 L368.59,384.22 L368.79,384.53 L368.98,384.85 L369.18,385.17 L369.37,385.49 L369.56,385.81 L369.76,386.13 L369.95,386.45 L370.15,386.77 L370.35,387.09 L370.54,387.41 L370.74,387.74 L370.93,388.06 L371.12,388.38 L371.32,388.71 L371.51,389.04 L371.71,389.36 L371.90,389.69 L372.10,390.02 L372.30,390.35 L372.49,390.67 L372.69,391.00 L372.88,391.33 L373.07,391.67 L373.27,392.00 L373.47,392.33 L373.66,392.66 L373.86,392.99 L374.05,393.33 L374.25,393.66 L374.44,394.00 L374.63,394.33 L374.83,394.67 L375.02,395.00 L375.22,395.34 L375.42,395.67 L375.61,396.01 L375.81,396.35 L376.00,396.68 L376.19,397.02 L376.39,397.36 L376.58,397.70 L376.78,398.04 L376.98,398.38 L377.17,398.72 L377.37,399.06 L377.56,399.39 L377.75,399.73 L377.95,400.07 L378.14,400.41 L378.34,400.76 L378.54,401.10 L378.73,401.44 L378.93,401.78 L379.12,402.12 L379.31,402.46 L379.51,402.80 L379.70,403.14 L379.90,403.48 L380.10,403.82 L380.29,404.17 L380.49,404.51 L380.68,404.85 L380.88,405.19 L381.07,405.53 L381.26,405.87 L381.46,406.21 L381.65,406.55 L381.85,406.89 L382.05,407.24 L382.24,407.58 L382.44,407.92 L382.63,408.26 L382.82,408.60 L383.02,408.94 L383.22,409.28 L383.41,409.62 L383.61,409.96 L383.80,410.29 L384.00,410.63 L384.19,410.97 L384.38,411.31 L384.58,411.65 L384.77,411.99 L384.97,412.32 L385.17,412.66 L385.36,413.00 L385.56,413.33 L385.75,413.67 L385.94,414.00 L386.14,414.34 L386.34,414.67 L386.53,415.01 L386.73,415.34 L386.92,415.67 L387.12,416.01 L387.31,416.34 L387.50,416.67 L387.70,417.00 L387.89,417.33 L388.09,417.66 L388.28,417.99 L388.48,418.32 L388.68,418.65 L388.87,418.97 L389.06,419.30 L389.26,419.63 L389.45,419.95 L389.65,420.28 L389.85,420.60 L390.04,420.93 L390.24,421.25 L390.43,421.57 L390.62,421.89 L390.82,422.21 L391.01,422.53 L391.21,422.85 L391.40,423.17 L391.60,423.49 L391.80,423.81 L391.99,424.12 L392.19,424.44 L392.38,424.75 L392.57,425.07 L392.77,425.38 L392.97,425.69 L393.16,426.00 L393.36,426.31 L393.55,426.62 L393.75,426.93 L393.94,427.24 L394.13,427.54 L394.33,427.85 L394.52,428.15 L394.72,428.46 L394.92,428.76 L395.11,429.06 L395.31,429.36 L395.50,429.66 L395.69,429.96 L395.89,430.26 L396.09,430.56 L396.28,430.85 L396.48,431.15 L396.67,431.44 L396.87,431.74 L397.06,432.03 L397.25,432.32 L397.45,432.61 L397.64,432.90 L397.84,433.19 L398.03,433.47 L398.23,433.76 L398.43,434.04 L398.62,434.33 L398.81,434.61 L399.01,434.89 L399.20,435.17 L399.40,435.45 L399.60,435.73 L399.79,436.00 L399.99,436.28 L400.18,436.55 L400.38,436.83 L400.57,437.10 L400.76,437.37 L400.96,437.64 L401.15,437.91 L401.35,438.17 L401.55,438.44 L401.74,438.71 L401.94,438.97 L402.13,439.23 L402.32,439.49 L402.52,439.75 L402.72,440.01 L402.91,440.27 L403.11,440.53 L403.30,440.78 L403.50,441.04 L403.69,441.29 L403.88,441.54 L404.08,441.79 L404.27,442.04 L404.47,442.29 L404.67,442.54 L404.86,442.79 L405.06,443.03 L405.25,443.27 L405.44,443.52 L405.64,443.76 L405.84,444.00 L406.03,444.24 L406.23,444.47 L406.42,444.71 L406.62,444.94 L406.81,445.18 L407.00,445.41 L407.20,445.64 L407.39,445.87 L407.59,446.10 L407.78,446.33 L407.98,446.55 L408.18,446.78 L408.37,447.00 L408.56,447.23 L408.76,447.45 L408.95,447.67 L409.15,447.89 L409.35,448.10 L409.54,448.32 L409.74,448.53 L409.93,448.75 L410.12,448.96 L410.32,449.17 L410.51,449.38 L410.71,449.59 L410.90,449.80 L411.10,450.01 L411.30,450.21 L411.49,450.42 L411.69,450.62 L411.88,450.82 L412.07,451.02 L412.27,451.22 L412.47,451.42 L412.66,451.62 L412.86,451.81 L413.05,452.01 L413.25,452.20 L413.44,452.39 L413.63,452.58 L413.83,452.77 L414.02,452.96 L414.22,453.15 L414.42,453.33 L414.61,453.52 L414.81,453.70 L415.00,453.89 L415.19,454.07 L415.39,454.25 L415.59,454.43 L415.78,454.61 L415.98,454.78 L416.17,454.96 L416.37,455.13 L416.56,455.31 L416.75,455.48 L416.95,455.65 L417.14,455.82 L417.34,455.99 L417.53,456.16 L417.73,456.32 L417.93,456.49 L418.12,456.65 L418.31,456.82 L418.51,456.98 L418.70,457.14 L418.90,457.30 L419.10,457.46 L419.29,457.62 L419.49,457.77 L419.68,457.93 L419.88,458.08 L420.07,458.24 L420.26,458.39 L420.46,458.54 L420.65,458.69 L420.85,458.84 L421.05,458.99 L421.24,459.14 L421.44,459.28 L421.63,459.43 L421.82,459.57 L422.02,459.71 L422.22,459.86 L422.41,460.00 L422.61,460.14 L422.80,460.28 L423.00,460.41 L423.19,460.55 L423.38,460.69 L423.58,460.82 L423.77,460.96 L423.97,461.09 L424.17,461.22 L424.36,461.35 L424.56,461.48 L424.75,461.61 L424.94,461.74 L425.14,461.87 L425.34,461.99 L425.53,462.12 L425.73,462.24 L425.92,462.37 L426.12,462.49 L426.31,462.61 L426.50,462.73 L426.70,462.85 L426.89,462.97 L427.09,463.09 L427.29,463.21 L427.48,463.32 L427.68,463.44 L427.87,463.55 L428.06,463.67 L428.26,463.78 L428.45,463.89 L428.65,464.00 L428.85,464.11 L429.04,464.22 L429.24,464.33 L429.43,464.44 L429.62,464.54 L429.82,464.65 L430.01,464.76 L430.21,464.86 L430.40,464.96 L430.60,465.07 L430.80,465.17 L430.99,465.27 L431.19,465.37 L431.38,465.47 L431.57,465.57 L431.77,465.67 L431.97,465.76 L432.16,465.86 L432.36,465.96 L432.55,466.05 L432.75,466.14 L432.94,466.24 L433.13,466.33 L433.33,466.42 L433.52,466.51 L433.72,466.60 L433.92,466.69 L434.11,466.78 L434.31,466.87 L434.50,466.96 L434.69,467.05 L434.89,467.13 L435.09,467.22 L435.28,467.30 L435.48,467.39 L435.67,467.47 L435.87,467.55 L436.06,467.64 L436.25,467.72 L436.45,467.80 L436.64,467.88 L436.84,467.96 L437.04,468.04 L437.23,468.11 L437.43,468.19 L437.62,468.27 L437.81,468.34 L438.01,468.42 L438.20,468.50 L438.40,468.57 L438.60,468.64 L438.79,468.72 L438.99,468.79 L439.18,468.86 L439.38,468.93 L439.57,469.00 L439.76,469.07 L439.96,469.14 L440.15,469.21 L440.35,469.28 L440.55,469.35 L440.74,469.41 L440.94,469.48 L441.13,469.55 L441.32,469.61 L441.52,469.68 L441.72,469.74 L441.91,469.81 L442.11,469.87 L442.30,469.93 L442.50,470.00 L442.69,470.06 L442.88,470.12 L443.08,470.18 L443.27,470.24 L443.47,470.30 L443.67,470.36 L443.86,470.42 L444.06,470.48 L444.25,470.53 L444.44,470.59 L444.64,470.65 L444.84,470.70 L445.03,470.76 L445.23,470.81 L445.42,470.87 L445.62,470.92 L445.81,470.98 L446.00,471.03 L446.20,471.08 L446.39,471.14 L446.59,471.19 L446.78,471.24 L446.98,471.29 L447.18,471.34 L447.37,471.39 L447.56,471.44 L447.76,471.49 L447.96,471.54 L448.15,471.59 L448.35,471.64 L448.54,471.69 L448.74,471.73 L448.93,471.78 L449.12,471.83 L449.32,471.87 L449.51,471.92 L449.71,471.96 L449.90,472.01 L450.10,472.05 L450.30,472.10 L450.49,472.14 L450.69,472.18 L450.88,472.23 L451.08,472.27 L451.27,472.31 L451.47,472.35 L451.66,472.40 L451.86,472.44 L452.05,472.48 L452.25,472.52 L452.44,472.56 L452.63,472.60 L452.83,472.64 L453.02,472.68 L453.22,472.71 L453.41,472.75 L453.61,472.79 L453.81,472.83 L454.00,472.87 L454.19,472.90 L454.39,472.94 L454.59,472.98 L454.78,473.01 L454.98,473.05 L455.17,473.08 L455.37,473.12 L455.56,473.15 L455.75,473.19 L455.95,473.22 L456.14,473.26 L456.34,473.29 L456.53,473.32 L456.73,473.35 L456.93,473.39 L457.12,473.42 L457.31,473.45 L457.51,473.48 L457.71,473.52 L457.90,473.55" fill="none" stroke="#0000ff" stroke-width="2.1"/>
<defs><pattern id="hg" width="4.1" height="4.1" patternUnits="userSpaceOnUse" patternTransform="rotate(-45)"><rect width="4.1" height="4.1" fill="#808080"/><rect width="2.1" height="4.1" fill="#000"/></pattern><pattern id="hb" width="4.1" height="4.1" patternUnits="userSpaceOnUse" patternTransform="rotate(-45)"><rect width="4.1" height="4.1" fill="#0000ff"/><rect width="2.3" height="4.1" fill="#000"/></pattern></defs>
<text x="551.20" y="104.80" font-size="17.5" text-anchor="start" >(e)</text>
<line x1="573.60" y1="127.30" x2="573.60" y2="263.20" stroke="#000" stroke-width="2.0" />
<line x1="568.30" y1="128.20" x2="573.60" y2="128.20" stroke="#000" stroke-width="1.9" />
<line x1="570.80" y1="161.72" x2="573.60" y2="161.72" stroke="#000" stroke-width="1.9" />
<line x1="568.30" y1="195.25" x2="573.60" y2="195.25" stroke="#000" stroke-width="1.9" />
<line x1="570.80" y1="228.77" x2="573.60" y2="228.77" stroke="#000" stroke-width="1.9" />
<line x1="568.30" y1="262.30" x2="573.60" y2="262.30" stroke="#000" stroke-width="1.9" />
<line x1="572.60" y1="262.30" x2="709.00" y2="262.30" stroke="#000" stroke-width="2.0" />
<text x="561.80" y="133.30" font-size="14" text-anchor="end" >0</text>
<text x="561.80" y="200.35" font-size="14" text-anchor="end" >-50</text>
<text x="561.80" y="267.40" font-size="14" text-anchor="end" >-100</text>
<text transform="translate(519,229.6) rotate(-90)" font-size="14.4">V<tspan font-size="9.8" dy="3.6">(mid)</tspan><tspan dy="-3.6"> (mV)</tspan></text>
<text x="610.50" y="144.20" font-size="12" text-anchor="middle" >p = 0.296</text>
<line x1="593.60" y1="151.30" x2="626.00" y2="151.30" stroke="#000" stroke-width="1.8" />
<text x="672.10" y="144.20" font-size="12" text-anchor="middle" >p = 0.023</text>
<line x1="655.40" y1="151.30" x2="686.80" y2="151.30" stroke="#000" stroke-width="1.8" />
<line x1="594.90" y1="168.80" x2="594.90" y2="202.40" stroke="#000" stroke-width="1.6" />
<line x1="594.90" y1="175.30" x2="594.90" y2="217.60" stroke="#000" stroke-width="1.6" />
<line x1="589.30" y1="168.80" x2="600.50" y2="168.80" stroke="#000" stroke-width="1.6" />
<line x1="589.30" y1="217.60" x2="600.50" y2="217.60" stroke="#000" stroke-width="1.6" />
<rect x="585.20" y="175.30" width="19.40" height="27.10" fill="#808080" stroke="#000" stroke-width="2.1"/>
<line x1="585.20" y1="184.90" x2="604.60" y2="184.90" stroke="#000" stroke-width="1.6" />
<circle cx="594.90" cy="168.80" r="4.1" fill="#808080" stroke="#000" stroke-width="2.0"/>
<circle cx="594.90" cy="181.30" r="4.1" fill="#808080" stroke="#000" stroke-width="2.0"/>
<circle cx="594.90" cy="185.60" r="4.1" fill="#808080" stroke="#000" stroke-width="2.0"/>
<circle cx="594.90" cy="217.60" r="4.1" fill="#808080" stroke="#000" stroke-width="2.0"/>
<line x1="625.10" y1="179.20" x2="625.10" y2="208.30" stroke="#000" stroke-width="1.6" />
<line x1="625.10" y1="186.60" x2="625.10" y2="209.80" stroke="#000" stroke-width="1.6" />
<line x1="619.50" y1="179.20" x2="630.70" y2="179.20" stroke="#000" stroke-width="1.6" />
<line x1="619.50" y1="209.80" x2="630.70" y2="209.80" stroke="#000" stroke-width="1.6" />
<rect x="615.50" y="186.60" width="19.20" height="21.70" fill="#0000ff" stroke="#000" stroke-width="2.1"/>
<line x1="615.50" y1="205.50" x2="634.70" y2="205.50" stroke="#000" stroke-width="1.6" />
<circle cx="625.10" cy="179.20" r="4.1" fill="#0000ff" stroke="#000" stroke-width="2.0"/>
<circle cx="625.10" cy="194.80" r="4.1" fill="#0000ff" stroke="#000" stroke-width="2.0"/>
<circle cx="625.10" cy="204.10" r="4.1" fill="#0000ff" stroke="#000" stroke-width="2.0"/>
<circle cx="625.10" cy="209.80" r="4.1" fill="#0000ff" stroke="#000" stroke-width="2.0"/>
<line x1="656.15" y1="175.00" x2="656.15" y2="216.90" stroke="#000" stroke-width="1.6" />
<line x1="656.15" y1="185.20" x2="656.15" y2="229.20" stroke="#000" stroke-width="1.6" />
<line x1="650.55" y1="175.00" x2="661.75" y2="175.00" stroke="#000" stroke-width="1.6" />
<line x1="650.55" y1="229.20" x2="661.75" y2="229.20" stroke="#000" stroke-width="1.6" />
<rect x="646.50" y="185.20" width="19.30" height="31.70" fill="url(#hg)" stroke="#000" stroke-width="2.1"/>
<circle cx="656.15" cy="175.00" r="4.1" fill="#808080" stroke="#000" stroke-width="2.0"/>
<circle cx="656.15" cy="195.60" r="4.1" fill="#808080" stroke="#000" stroke-width="2.0"/>
<circle cx="656.15" cy="203.70" r="4.1" fill="#808080" stroke="#000" stroke-width="2.0"/>
<circle cx="656.15" cy="229.20" r="4.1" fill="#808080" stroke="#000" stroke-width="2.0"/>
<line x1="686.65" y1="217.40" x2="686.65" y2="234.40" stroke="#000" stroke-width="1.6" />
<line x1="686.65" y1="219.80" x2="686.65" y2="240.00" stroke="#000" stroke-width="1.6" />
<line x1="681.05" y1="217.40" x2="692.25" y2="217.40" stroke="#000" stroke-width="1.6" />
<line x1="681.05" y1="240.00" x2="692.25" y2="240.00" stroke="#000" stroke-width="1.6" />
<rect x="676.80" y="219.80" width="19.70" height="14.60" fill="url(#hb)" stroke="#000" stroke-width="2.1"/>
<circle cx="686.65" cy="217.40" r="4.1" fill="#0000ff" stroke="#000" stroke-width="2.0"/>
<circle cx="686.65" cy="225.50" r="4.1" fill="#0000ff" stroke="#000" stroke-width="2.0"/>
<circle cx="686.65" cy="240.00" r="4.1" fill="#0000ff" stroke="#000" stroke-width="2.0"/>
<text x="551.90" y="320.80" font-size="17.5" text-anchor="start" >(f)</text>
<line x1="573.60" y1="339.90" x2="573.60" y2="476.10" stroke="#000" stroke-width="2.0" />
<line x1="568.30" y1="340.80" x2="573.60" y2="340.80" stroke="#000" stroke-width="1.9" />
<line x1="570.80" y1="374.40" x2="573.60" y2="374.40" stroke="#000" stroke-width="1.9" />
<line x1="568.30" y1="408.00" x2="573.60" y2="408.00" stroke="#000" stroke-width="1.9" />
<line x1="570.80" y1="441.60" x2="573.60" y2="441.60" stroke="#000" stroke-width="1.9" />
<line x1="572.60" y1="475.20" x2="709.00" y2="475.20" stroke="#000" stroke-width="2.0" />
<text x="561.80" y="345.90" font-size="14" text-anchor="end" >80</text>
<text x="561.80" y="413.10" font-size="14" text-anchor="end" >40</text>
<text x="561.80" y="480.30" font-size="14" text-anchor="end" >0</text>
<text transform="translate(536.2,411.2) rotate(-90)" font-size="13.6">k</text>
<text x="610.30" y="401.20" font-size="12" text-anchor="middle" >p = 0.224</text>
<line x1="593.60" y1="407.80" x2="625.50" y2="407.80" stroke="#000" stroke-width="1.8" />
<text x="671.80" y="360.40" font-size="12" text-anchor="middle" >p = 0.725</text>
<line x1="655.40" y1="367.00" x2="686.80" y2="367.00" stroke="#000" stroke-width="1.8" />
<line x1="594.90" y1="424.80" x2="594.90" y2="441.30" stroke="#000" stroke-width="1.6" />
<line x1="594.90" y1="428.30" x2="594.90" y2="439.80" stroke="#000" stroke-width="1.6" />
<line x1="589.30" y1="424.80" x2="600.50" y2="424.80" stroke="#000" stroke-width="1.6" />
<line x1="589.30" y1="439.80" x2="600.50" y2="439.80" stroke="#000" stroke-width="1.6" />
<rect x="585.20" y="428.30" width="19.40" height="13.00" fill="#808080" stroke="#000" stroke-width="2.1"/>
<line x1="585.20" y1="431.80" x2="604.60" y2="431.80" stroke="#000" stroke-width="1.6" />
<circle cx="594.90" cy="424.80" r="4.1" fill="#808080" stroke="#000" stroke-width="2.0"/>
<circle cx="594.90" cy="429.00" r="4.1" fill="#808080" stroke="#000" stroke-width="2.0"/>
<circle cx="594.90" cy="434.00" r="4.1" fill="#808080" stroke="#000" stroke-width="2.0"/>
<circle cx="594.90" cy="439.80" r="4.1" fill="#808080" stroke="#000" stroke-width="2.0"/>
<line x1="625.10" y1="427.60" x2="625.10" y2="448.20" stroke="#000" stroke-width="1.6" />
<line x1="625.10" y1="431.50" x2="625.10" y2="447.10" stroke="#000" stroke-width="1.6" />
<line x1="619.50" y1="427.60" x2="630.70" y2="427.60" stroke="#000" stroke-width="1.6" />
<line x1="619.50" y1="447.10" x2="630.70" y2="447.10" stroke="#000" stroke-width="1.6" />
<rect x="615.50" y="431.50" width="19.20" height="16.70" fill="#0000ff" stroke="#000" stroke-width="2.1"/>
<circle cx="625.10" cy="427.60" r="4.1" fill="#0000ff" stroke="#000" stroke-width="2.0"/>
<circle cx="625.10" cy="435.40" r="4.1" fill="#0000ff" stroke="#000" stroke-width="2.0"/>
<circle cx="625.10" cy="447.10" r="4.1" fill="#0000ff" stroke="#000" stroke-width="2.0"/>
<line x1="656.00" y1="399.70" x2="656.00" y2="432.90" stroke="#000" stroke-width="1.6" />
<line x1="656.00" y1="405.60" x2="656.00" y2="435.40" stroke="#000" stroke-width="1.6" />
<line x1="650.40" y1="399.70" x2="661.60" y2="399.70" stroke="#000" stroke-width="1.6" />
<line x1="650.40" y1="435.40" x2="661.60" y2="435.40" stroke="#000" stroke-width="1.6" />
<rect x="646.30" y="405.60" width="19.40" height="27.30" fill="url(#hg)" stroke="#000" stroke-width="2.1"/>
<circle cx="656.00" cy="399.70" r="4.1" fill="#808080" stroke="#000" stroke-width="2.0"/>
<circle cx="656.00" cy="412.10" r="4.1" fill="#808080" stroke="#000" stroke-width="2.0"/>
<circle cx="656.00" cy="428.90" r="4.1" fill="#808080" stroke="#000" stroke-width="2.0"/>
<circle cx="656.00" cy="435.40" r="4.1" fill="#808080" stroke="#000" stroke-width="2.0"/>
<line x1="686.65" y1="386.20" x2="686.65" y2="439.50" stroke="#000" stroke-width="1.6" />
<line x1="686.65" y1="402.30" x2="686.65" y2="439.30" stroke="#000" stroke-width="1.6" />
<line x1="681.05" y1="386.20" x2="692.25" y2="386.20" stroke="#000" stroke-width="1.6" />
<line x1="681.05" y1="439.30" x2="692.25" y2="439.30" stroke="#000" stroke-width="1.6" />
<rect x="676.80" y="402.30" width="19.70" height="37.20" fill="url(#hb)" stroke="#000" stroke-width="2.1"/>
<circle cx="686.65" cy="386.20" r="4.1" fill="#0000ff" stroke="#000" stroke-width="2.0"/>
<circle cx="686.65" cy="418.00" r="4.1" fill="#0000ff" stroke="#000" stroke-width="2.0"/>
<circle cx="686.65" cy="428.80" r="4.1" fill="#0000ff" stroke="#000" stroke-width="2.0"/>
<circle cx="686.65" cy="439.30" r="4.1" fill="#0000ff" stroke="#000" stroke-width="2.0"/>
</svg>
</body></html>
